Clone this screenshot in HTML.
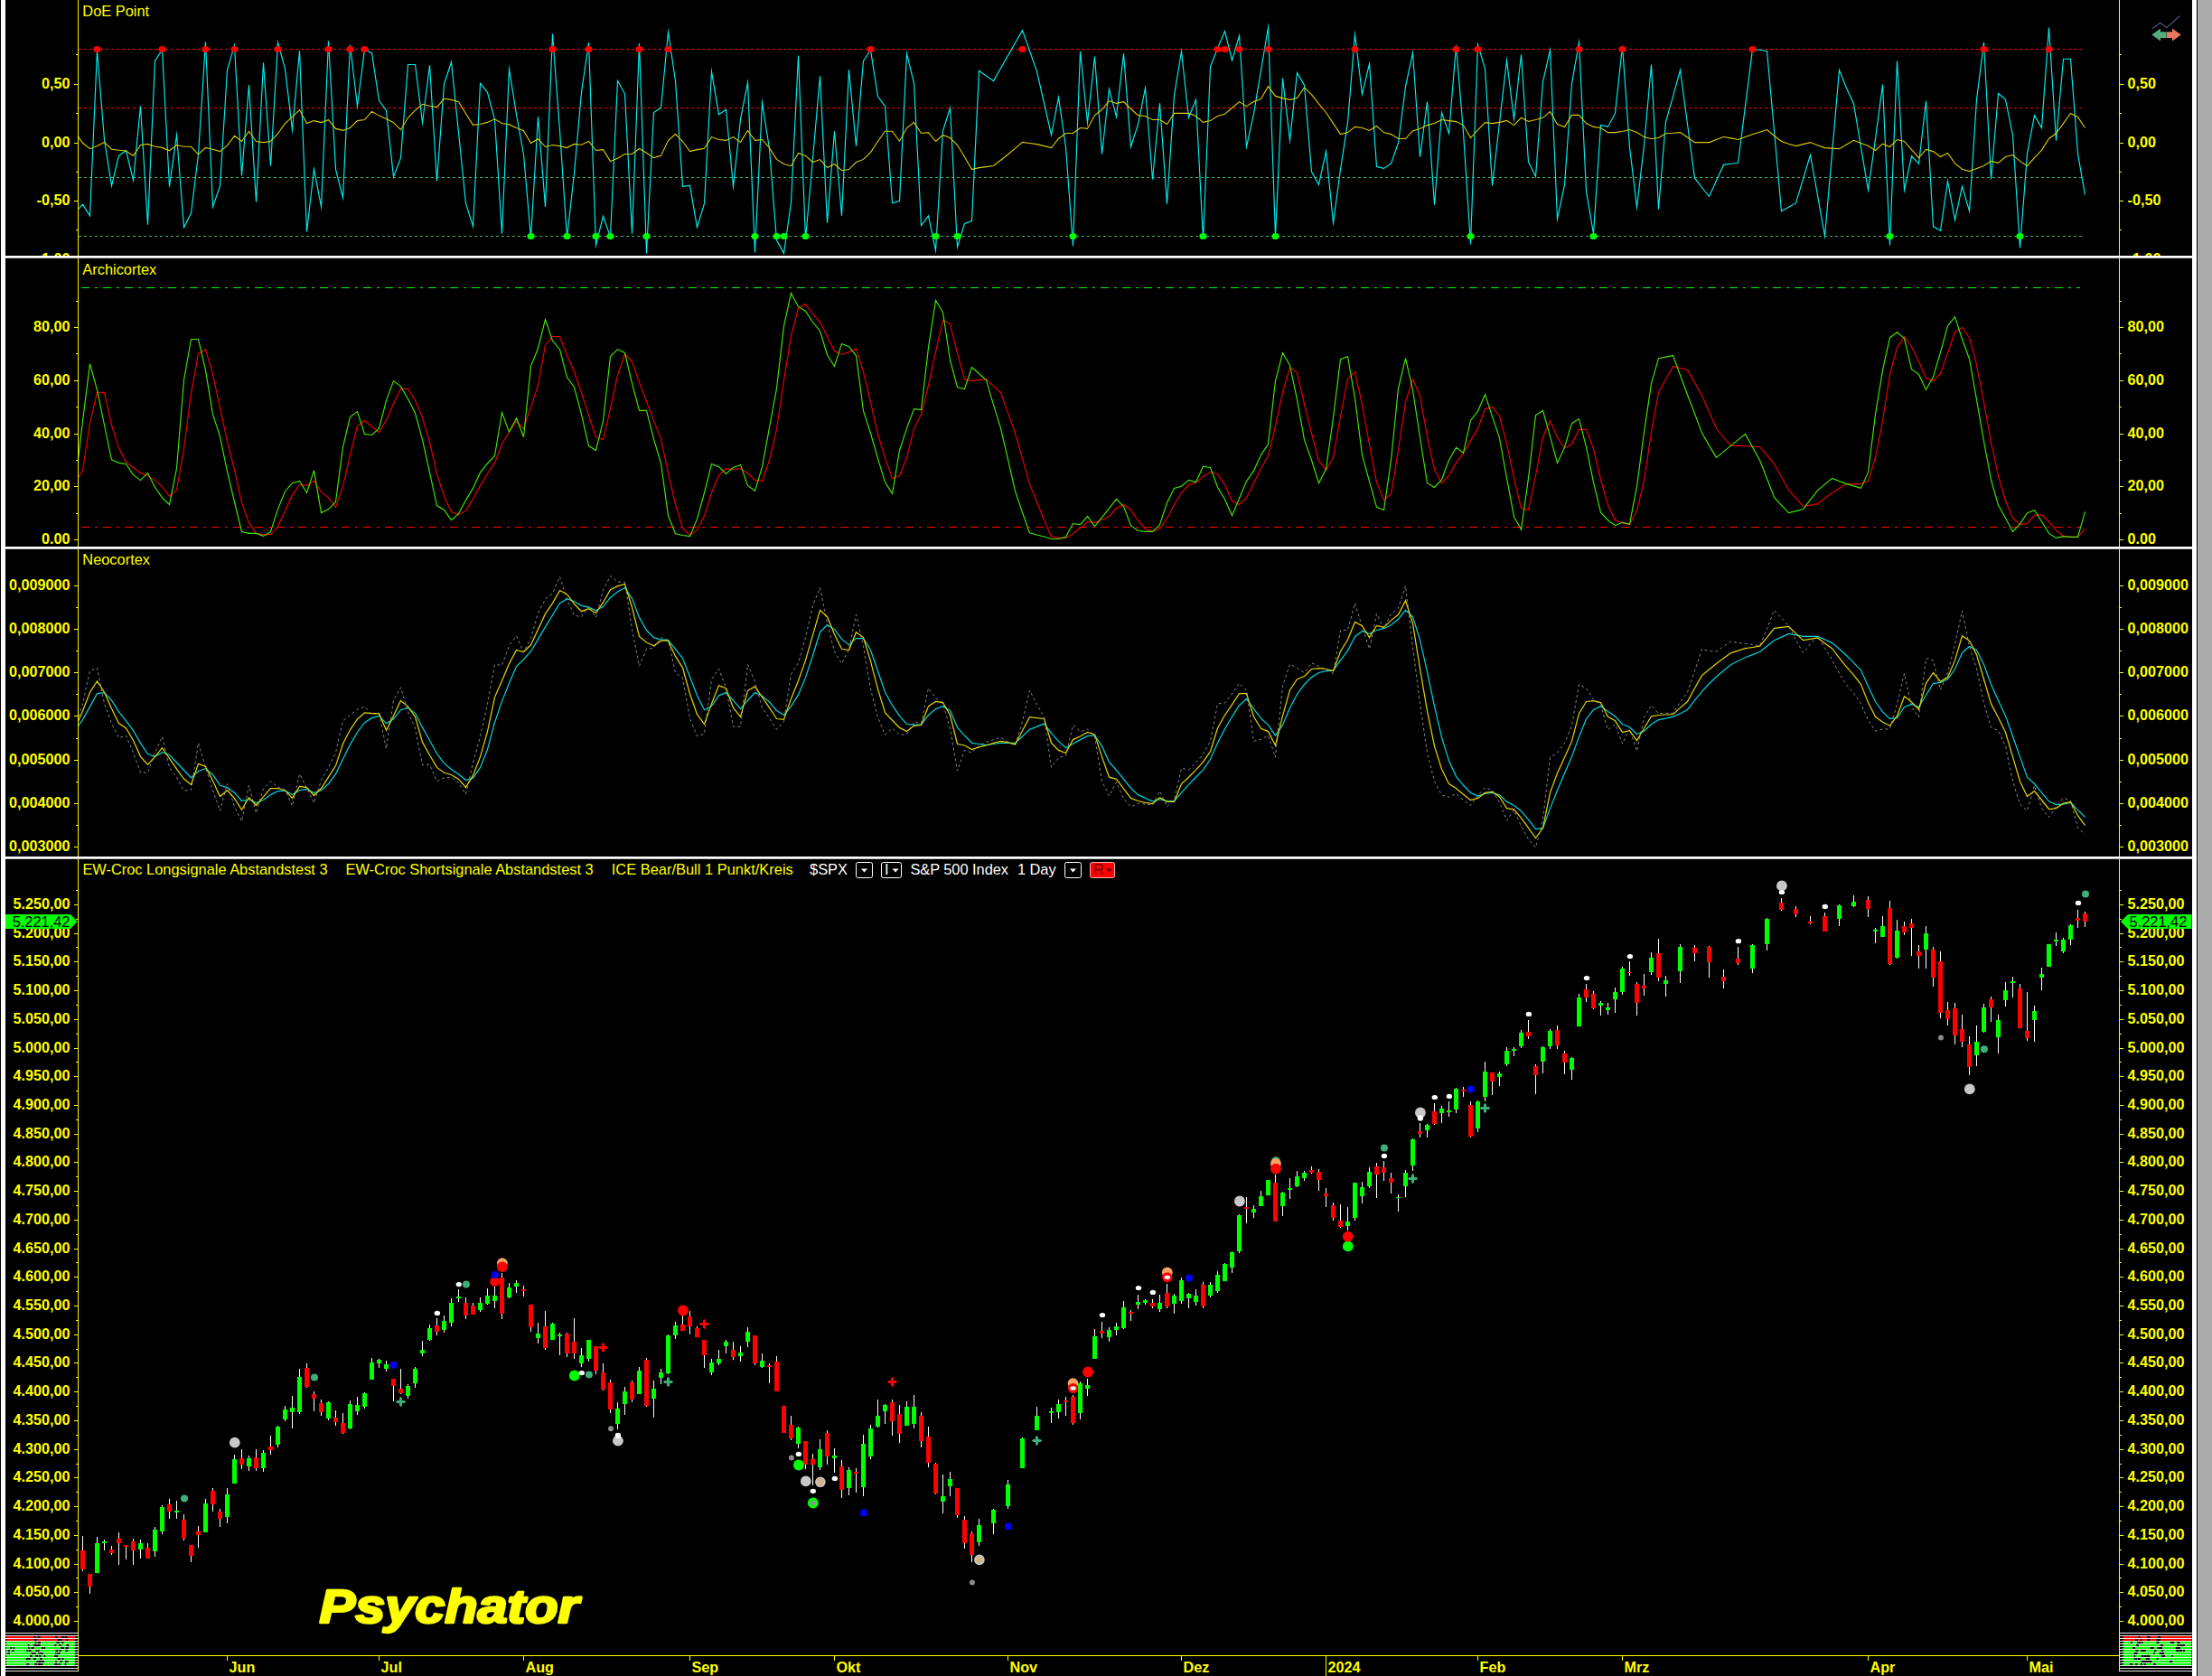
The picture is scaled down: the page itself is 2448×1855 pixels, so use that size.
<!DOCTYPE html><html><head><meta charset="utf-8"><title>Psychator Chart</title>
<style>html,body{margin:0;padding:0;background:#000;}body{width:2448px;height:1855px;overflow:hidden;position:relative;font-family:"Liberation Sans", Arial, sans-serif;}svg{position:absolute;left:0;top:0;display:block}text{font-family:"Liberation Sans", Arial, sans-serif;font-size:16.4px;}.b{font-weight:bold;fill:#ff0;font-size:16.2px}.t{fill:#ff0}.w{fill:#fff}</style></head><body>
<svg width="2448" height="1855" viewBox="0 0 2448 1855">
<defs>
<clipPath id="c1"><rect x="87" y="0" width="2258" height="283"/></clipPath>
<clipPath id="c2"><rect x="87" y="286" width="2258" height="319"/></clipPath>
<clipPath id="c3"><rect x="87" y="607" width="2258" height="341"/></clipPath>
<clipPath id="l1"><rect x="0" y="0" width="2448" height="283"/></clipPath>
<clipPath id="l2"><rect x="0" y="286" width="2448" height="319"/></clipPath>
<clipPath id="l3"><rect x="0" y="607" width="2448" height="341"/></clipPath>
<clipPath id="l4"><rect x="0" y="950" width="2448" height="857"/></clipPath>
</defs>
<rect x="0" y="0" width="2448" height="1855" fill="#000"/>
<rect x="1" y="0" width="5" height="1855" fill="#fff"/>
<rect x="2426" y="0" width="5" height="1855" fill="#fff"/>
<rect x="2432" y="0" width="16" height="1855" fill="#ababab"/>
<rect x="6" y="283" width="2420" height="3" fill="#fff"/>
<rect x="6" y="285" width="2420" height="1" fill="#bbb"/>
<rect x="6" y="605" width="2420" height="3" fill="#fff"/>
<rect x="6" y="607" width="2420" height="1" fill="#bbb"/>
<rect x="6" y="948" width="2420" height="3" fill="#fff"/>
<rect x="6" y="950" width="2420" height="1" fill="#bbb"/>
<line x1="86.5" y1="0.0" x2="86.5" y2="283.0" stroke="#ff0" stroke-width="1" shape-rendering="crispEdges"/>
<line x1="86.5" y1="286.0" x2="86.5" y2="605.0" stroke="#ff0" stroke-width="1" shape-rendering="crispEdges"/>
<line x1="86.5" y1="608.0" x2="86.5" y2="948.0" stroke="#ff0" stroke-width="1" shape-rendering="crispEdges"/>
<line x1="86.5" y1="951.0" x2="86.5" y2="1850.0" stroke="#ff0" stroke-width="1" shape-rendering="crispEdges"/>
<line x1="2345.5" y1="0.0" x2="2345.5" y2="283.0" stroke="#ff0" stroke-width="1" shape-rendering="crispEdges"/>
<line x1="2345.5" y1="286.0" x2="2345.5" y2="605.0" stroke="#ff0" stroke-width="1" shape-rendering="crispEdges"/>
<line x1="2345.5" y1="608.0" x2="2345.5" y2="948.0" stroke="#ff0" stroke-width="1" shape-rendering="crispEdges"/>
<line x1="2345.5" y1="951.0" x2="2345.5" y2="1850.0" stroke="#ff0" stroke-width="1" shape-rendering="crispEdges"/>
<g clip-path="url(#l1)">
<line x1="82.0" y1="93.5" x2="86.0" y2="93.5" stroke="#ff0" stroke-width="1" shape-rendering="crispEdges"/>
<line x1="2346.0" y1="93.5" x2="2350.0" y2="93.5" stroke="#ff0" stroke-width="1" shape-rendering="crispEdges"/>
<text class="b" x="77.5" y="98.1" text-anchor="end">0,50</text>
<text class="b" x="2354.5" y="98.1">0,50</text>
<line x1="82.0" y1="158.5" x2="86.0" y2="158.5" stroke="#ff0" stroke-width="1" shape-rendering="crispEdges"/>
<line x1="2346.0" y1="158.5" x2="2350.0" y2="158.5" stroke="#ff0" stroke-width="1" shape-rendering="crispEdges"/>
<text class="b" x="77.5" y="163.1" text-anchor="end">0,00</text>
<text class="b" x="2354.5" y="163.1">0,00</text>
<line x1="82.0" y1="222.5" x2="86.0" y2="222.5" stroke="#ff0" stroke-width="1" shape-rendering="crispEdges"/>
<line x1="2346.0" y1="222.5" x2="2350.0" y2="222.5" stroke="#ff0" stroke-width="1" shape-rendering="crispEdges"/>
<text class="b" x="77.5" y="227.1" text-anchor="end">-0,50</text>
<text class="b" x="2354.5" y="227.1">-0,50</text>
<line x1="82.0" y1="287.5" x2="86.0" y2="287.5" stroke="#ff0" stroke-width="1" shape-rendering="crispEdges"/>
<line x1="2346.0" y1="287.5" x2="2350.0" y2="287.5" stroke="#ff0" stroke-width="1" shape-rendering="crispEdges"/>
<text class="b" x="77.5" y="292.1" text-anchor="end">-1,00</text>
<text class="b" x="2354.5" y="292.1">-1,00</text>
<line x1="84.0" y1="60.5" x2="86.0" y2="60.5" stroke="#ff0" stroke-width="1" shape-rendering="crispEdges"/>
<line x1="2346.0" y1="60.5" x2="2348.0" y2="60.5" stroke="#ff0" stroke-width="1" shape-rendering="crispEdges"/>
<line x1="84.0" y1="125.5" x2="86.0" y2="125.5" stroke="#ff0" stroke-width="1" shape-rendering="crispEdges"/>
<line x1="2346.0" y1="125.5" x2="2348.0" y2="125.5" stroke="#ff0" stroke-width="1" shape-rendering="crispEdges"/>
<line x1="84.0" y1="190.5" x2="86.0" y2="190.5" stroke="#ff0" stroke-width="1" shape-rendering="crispEdges"/>
<line x1="2346.0" y1="190.5" x2="2348.0" y2="190.5" stroke="#ff0" stroke-width="1" shape-rendering="crispEdges"/>
<line x1="84.0" y1="254.5" x2="86.0" y2="254.5" stroke="#ff0" stroke-width="1" shape-rendering="crispEdges"/>
<line x1="2346.0" y1="254.5" x2="2348.0" y2="254.5" stroke="#ff0" stroke-width="1" shape-rendering="crispEdges"/>
</g>
<text class="t" x="91.3" y="18">DoE Point</text>
<line x1="87" y1="54.5" x2="2304" y2="54.5" stroke="#f00" stroke-width="1" stroke-dasharray="3 3" shape-rendering="crispEdges"/>
<line x1="87" y1="119.5" x2="2304" y2="119.5" stroke="#f00" stroke-width="1" stroke-dasharray="3 3" shape-rendering="crispEdges"/>
<line x1="87" y1="196.5" x2="2304" y2="196.5" stroke="#3cb371" stroke-width="1" stroke-dasharray="3 3" shape-rendering="crispEdges"/>
<line x1="87" y1="261.5" x2="2304" y2="261.5" stroke="#3cb371" stroke-width="1" stroke-dasharray="3 3" shape-rendering="crispEdges"/>
<g clip-path="url(#c1)" fill="none" stroke-linejoin="miter" stroke-miterlimit="10">
<polyline points="83.5,235.2 91.5,226.1 99.5,238.8 107.5,56.2 115.5,154.7 123.5,205.7 131.5,172.4 139.5,166.5 147.5,199.6 155.5,117.6 163.5,248.8 171.5,67.4 179.5,55.3 187.5,206.6 195.5,149.3 203.5,251.6 211.5,236.1 219.5,171.0 227.5,46.2 235.5,228.9 243.5,205.9 251.5,77.5 259.5,50.4 267.5,194.5 275.5,94.1 283.5,223.8 291.5,69.2 299.5,183.7 307.5,47.1 315.5,76.1 323.5,143.9 331.5,56.2 339.5,256.5 347.5,187.3 355.5,228.9 363.5,45.3 371.5,187.3 379.5,218.9 387.5,49.8 395.5,117.6 403.5,54.4 411.5,58.9 419.5,111.3 427.5,122.2 435.5,195.8 443.5,174.6 451.5,71.5 459.5,71.5 467.5,135.7 475.5,72.4 483.5,200.5 491.5,93.2 499.5,68.5 507.5,146.6 515.5,225.2 523.5,250.6 531.5,92.3 539.5,102.3 547.5,132.1 555.5,258.7 563.5,76.4 571.5,126.7 579.5,171.0 587.5,263.2 595.5,129.4 603.5,228.9 611.5,37.2 619.5,144.8 627.5,263.2 635.5,191.8 643.5,102.3 651.5,47.1 659.5,271.4 667.5,239.3 675.5,262.3 683.5,89.3 691.5,104.1 699.5,258.7 707.5,48.0 715.5,280.4 723.5,124.5 731.5,119.1 739.5,35.4 747.5,89.6 755.5,206.3 763.5,205.4 771.5,251.5 779.5,225.2 787.5,79.3 795.5,126.7 803.5,121.3 811.5,206.6 819.5,132.1 827.5,91.4 835.5,279.5 843.5,113.5 851.5,164.7 859.5,265.9 867.5,280.4 875.5,224.3 883.5,61.6 891.5,265.0 899.5,175.5 907.5,84.2 915.5,246.6 923.5,145.3 931.5,238.8 939.5,77.3 947.5,161.6 955.5,67.4 963.5,55.3 971.5,106.8 979.5,117.6 987.5,224.7 995.5,222.5 1003.5,59.2 1011.5,92.3 1019.5,249.7 1027.5,238.8 1035.5,277.1 1043.5,144.8 1051.5,119.5 1059.5,273.5 1067.5,247.5 1075.5,244.6 1083.5,78.4 1091.5,84.0 1099.5,89.6 1107.5,75.5 1115.5,61.6 1123.5,47.5 1131.5,33.6 1139.5,56.2 1147.5,78.8 1155.5,114.0 1163.5,149.5 1171.5,107.7 1179.5,162.9 1187.5,272.3 1195.5,56.7 1203.5,135.7 1211.5,62.5 1219.5,170.5 1227.5,98.7 1235.5,129.4 1243.5,59.4 1251.5,162.5 1259.5,137.5 1267.5,97.4 1275.5,198.7 1283.5,114.4 1291.5,225.6 1299.5,105.9 1307.5,56.7 1315.5,130.3 1323.5,110.4 1331.5,265.0 1339.5,73.7 1347.5,53.5 1355.5,34.5 1363.5,66.7 1371.5,39.5 1379.5,162.5 1387.5,125.8 1395.5,77.9 1403.5,30.5 1411.5,262.3 1419.5,86.5 1427.5,155.3 1435.5,80.6 1443.5,94.1 1451.5,190.0 1459.5,204.4 1467.5,167.4 1475.5,246.6 1483.5,187.3 1491.5,135.7 1499.5,38.1 1507.5,104.4 1515.5,70.6 1523.5,184.6 1531.5,186.4 1539.5,180.9 1547.5,158.3 1555.5,95.9 1563.5,58.3 1571.5,173.7 1579.5,112.6 1587.5,226.7 1595.5,124.5 1603.5,147.7 1611.5,50.4 1619.5,146.6 1627.5,270.5 1635.5,49.3 1643.5,76.1 1651.5,205.4 1659.5,135.7 1667.5,66.7 1675.5,131.8 1683.5,60.5 1691.5,179.1 1699.5,195.4 1707.5,90.5 1715.5,55.3 1723.5,242.4 1731.5,204.4 1739.5,92.3 1747.5,46.8 1755.5,211.7 1763.5,258.7 1771.5,138.4 1779.5,140.4 1787.5,125.4 1795.5,50.7 1803.5,162.9 1811.5,229.4 1819.5,161.0 1827.5,71.5 1835.5,231.6 1843.5,134.8 1851.5,106.8 1859.5,77.5 1867.5,137.5 1875.5,197.2 1883.5,207.5 1891.5,217.5 1899.5,199.9 1907.5,182.4 1915.5,181.3 1923.5,180.2 1931.5,117.6 1939.5,54.4 1947.5,55.3 1955.5,56.7 1963.5,144.8 1971.5,233.7 1979.5,229.2 1987.5,224.7 1995.5,198.1 2003.5,171.5 2011.5,216.2 2019.5,261.4 2027.5,170.1 2035.5,77.5 2043.5,97.4 2051.5,114.9 2059.5,162.9 2067.5,210.4 2075.5,153.8 2083.5,93.6 2091.5,271.4 2099.5,67.6 2107.5,210.4 2115.5,172.8 2123.5,181.3 2131.5,111.7 2139.5,250.6 2147.5,255.4 2155.5,200.5 2163.5,243.5 2171.5,206.3 2179.5,233.4 2187.5,110.4 2195.5,46.8 2203.5,198.5 2211.5,103.5 2219.5,110.4 2227.5,149.5 2235.5,274.4 2243.5,170.1 2251.5,127.6 2259.5,141.5 2267.5,30.5 2275.5,155.6 2283.5,65.2 2291.5,65.2 2299.5,170.1 2307.5,215.7" stroke="#00f0f0" stroke-width="1.15"/>
<polyline points="83.5,146.6 91.5,158.3 99.5,164.7 107.5,161.4 115.5,157.4 123.5,165.2 131.5,166.3 139.5,167.0 147.5,172.4 155.5,160.5 163.5,159.4 171.5,162.3 179.5,163.4 187.5,166.8 195.5,160.5 203.5,162.3 211.5,162.3 219.5,171.0 227.5,163.4 235.5,165.2 243.5,167.6 251.5,161.2 259.5,150.4 267.5,156.5 275.5,145.5 283.5,156.5 291.5,157.6 299.5,156.5 307.5,148.0 315.5,136.6 323.5,129.4 331.5,121.6 339.5,136.6 347.5,133.6 355.5,135.6 363.5,132.7 371.5,142.4 379.5,144.4 387.5,141.5 395.5,133.6 403.5,132.5 411.5,123.4 419.5,128.1 427.5,131.4 435.5,135.7 443.5,143.7 451.5,130.3 459.5,122.2 467.5,115.3 475.5,117.3 483.5,118.6 491.5,109.3 499.5,110.4 507.5,112.6 515.5,125.8 523.5,138.4 531.5,137.5 539.5,135.4 547.5,131.8 555.5,136.5 563.5,137.9 571.5,141.5 579.5,144.8 587.5,158.5 595.5,153.8 603.5,162.5 611.5,160.5 619.5,161.6 627.5,163.6 635.5,159.4 643.5,160.3 651.5,156.5 659.5,166.5 667.5,165.6 675.5,178.6 683.5,175.2 691.5,170.5 699.5,170.5 707.5,164.5 715.5,169.2 723.5,174.6 731.5,172.4 739.5,155.6 747.5,148.6 755.5,156.5 763.5,167.6 771.5,165.6 779.5,164.3 787.5,151.6 795.5,154.5 803.5,155.4 811.5,151.6 819.5,157.4 827.5,144.4 835.5,155.4 843.5,154.5 851.5,163.6 859.5,176.4 867.5,181.5 875.5,183.7 883.5,169.5 891.5,172.4 899.5,179.5 907.5,176.6 915.5,185.5 923.5,181.5 931.5,188.7 939.5,187.6 947.5,179.5 955.5,176.4 963.5,168.6 971.5,156.5 979.5,145.3 987.5,145.3 995.5,156.3 1003.5,141.5 1011.5,135.6 1019.5,147.5 1027.5,146.6 1035.5,156.5 1043.5,149.5 1051.5,152.5 1059.5,160.5 1067.5,173.7 1075.5,187.6 1083.5,185.6 1091.5,184.6 1099.5,183.5 1107.5,177.3 1115.5,171.0 1123.5,164.1 1131.5,157.4 1139.5,158.5 1147.5,159.6 1155.5,161.6 1163.5,163.6 1171.5,153.5 1179.5,147.5 1187.5,147.5 1195.5,141.5 1203.5,142.4 1211.5,127.6 1219.5,121.3 1227.5,111.7 1235.5,114.4 1243.5,112.6 1251.5,120.5 1259.5,127.6 1267.5,128.5 1275.5,132.5 1283.5,132.5 1291.5,137.5 1299.5,125.4 1307.5,125.4 1315.5,125.4 1323.5,128.5 1331.5,135.4 1339.5,133.6 1347.5,128.5 1355.5,126.3 1363.5,119.5 1371.5,112.6 1379.5,117.6 1387.5,112.6 1395.5,109.5 1403.5,95.6 1411.5,106.4 1419.5,108.6 1427.5,110.4 1435.5,108.6 1443.5,96.9 1451.5,104.6 1459.5,114.9 1467.5,124.5 1475.5,136.6 1483.5,148.6 1491.5,146.6 1499.5,140.4 1507.5,141.5 1515.5,144.4 1523.5,139.5 1531.5,146.6 1539.5,148.6 1547.5,153.5 1555.5,153.5 1563.5,144.8 1571.5,142.6 1579.5,138.6 1587.5,136.5 1595.5,132.5 1603.5,133.6 1611.5,134.6 1619.5,138.6 1627.5,152.5 1635.5,143.9 1643.5,135.7 1651.5,136.6 1659.5,135.4 1667.5,133.4 1675.5,138.6 1683.5,130.3 1691.5,134.5 1699.5,132.5 1707.5,130.3 1715.5,123.6 1723.5,137.5 1731.5,140.6 1739.5,127.4 1747.5,127.4 1755.5,136.6 1763.5,140.4 1771.5,141.5 1779.5,146.6 1787.5,146.6 1795.5,145.5 1803.5,143.5 1811.5,146.6 1819.5,151.6 1827.5,153.8 1835.5,152.5 1843.5,147.7 1851.5,147.3 1859.5,146.6 1867.5,152.0 1875.5,157.6 1883.5,157.6 1891.5,157.6 1899.5,154.5 1907.5,151.5 1915.5,152.9 1923.5,154.5 1931.5,151.6 1939.5,148.8 1947.5,146.2 1955.5,143.5 1963.5,150.2 1971.5,156.5 1979.5,159.2 1987.5,161.6 1995.5,159.6 2003.5,157.6 2011.5,160.7 2019.5,163.6 2027.5,164.1 2035.5,164.7 2043.5,160.1 2051.5,155.3 2059.5,158.5 2067.5,161.6 2075.5,166.5 2083.5,159.2 2091.5,162.5 2099.5,154.5 2107.5,156.5 2115.5,165.6 2123.5,174.6 2131.5,165.4 2139.5,167.6 2147.5,173.5 2155.5,169.5 2163.5,180.9 2171.5,187.3 2179.5,189.6 2187.5,186.5 2195.5,183.5 2203.5,178.4 2211.5,180.4 2219.5,173.5 2227.5,171.5 2235.5,178.4 2243.5,183.7 2251.5,174.6 2259.5,166.1 2267.5,153.5 2275.5,147.5 2283.5,136.6 2291.5,125.4 2299.5,129.4 2307.5,141.5" stroke="#dccc00" stroke-width="1.1"/>
<ellipse cx="107.5" cy="54.5" rx="4.1" ry="3.6" fill="#f00" stroke="none"/>
<ellipse cx="179.5" cy="54.5" rx="4.1" ry="3.6" fill="#f00" stroke="none"/>
<ellipse cx="227.5" cy="54.5" rx="4.1" ry="3.6" fill="#f00" stroke="none"/>
<ellipse cx="259.5" cy="54.5" rx="4.1" ry="3.6" fill="#f00" stroke="none"/>
<ellipse cx="307.5" cy="54.5" rx="4.1" ry="3.6" fill="#f00" stroke="none"/>
<ellipse cx="363.5" cy="54.5" rx="4.1" ry="3.6" fill="#f00" stroke="none"/>
<ellipse cx="387.5" cy="54.5" rx="4.1" ry="3.6" fill="#f00" stroke="none"/>
<ellipse cx="403.5" cy="54.5" rx="4.1" ry="3.6" fill="#f00" stroke="none"/>
<ellipse cx="611.5" cy="54.5" rx="4.1" ry="3.6" fill="#f00" stroke="none"/>
<ellipse cx="651.5" cy="54.5" rx="4.1" ry="3.6" fill="#f00" stroke="none"/>
<ellipse cx="707.5" cy="54.5" rx="4.1" ry="3.6" fill="#f00" stroke="none"/>
<ellipse cx="739.5" cy="54.5" rx="4.1" ry="3.6" fill="#f00" stroke="none"/>
<ellipse cx="963.5" cy="54.5" rx="4.1" ry="3.6" fill="#f00" stroke="none"/>
<ellipse cx="1131.5" cy="54.5" rx="4.1" ry="3.6" fill="#f00" stroke="none"/>
<ellipse cx="1347.5" cy="54.5" rx="4.1" ry="3.6" fill="#f00" stroke="none"/>
<ellipse cx="1355.5" cy="54.5" rx="4.1" ry="3.6" fill="#f00" stroke="none"/>
<ellipse cx="1371.5" cy="54.5" rx="4.1" ry="3.6" fill="#f00" stroke="none"/>
<ellipse cx="1403.5" cy="54.5" rx="4.1" ry="3.6" fill="#f00" stroke="none"/>
<ellipse cx="1499.5" cy="54.5" rx="4.1" ry="3.6" fill="#f00" stroke="none"/>
<ellipse cx="1611.5" cy="54.5" rx="4.1" ry="3.6" fill="#f00" stroke="none"/>
<ellipse cx="1635.5" cy="54.5" rx="4.1" ry="3.6" fill="#f00" stroke="none"/>
<ellipse cx="1747.5" cy="54.5" rx="4.1" ry="3.6" fill="#f00" stroke="none"/>
<ellipse cx="1795.5" cy="54.5" rx="4.1" ry="3.6" fill="#f00" stroke="none"/>
<ellipse cx="1939.5" cy="54.5" rx="4.1" ry="3.6" fill="#f00" stroke="none"/>
<ellipse cx="2195.5" cy="54.5" rx="4.1" ry="3.6" fill="#f00" stroke="none"/>
<ellipse cx="2267.5" cy="54.5" rx="4.1" ry="3.6" fill="#f00" stroke="none"/>
<ellipse cx="587.5" cy="261.5" rx="4.1" ry="3.6" fill="#0f0" stroke="none"/>
<ellipse cx="627.5" cy="261.5" rx="4.1" ry="3.6" fill="#0f0" stroke="none"/>
<ellipse cx="659.5" cy="261.5" rx="4.1" ry="3.6" fill="#0f0" stroke="none"/>
<ellipse cx="675.5" cy="261.5" rx="4.1" ry="3.6" fill="#0f0" stroke="none"/>
<ellipse cx="715.5" cy="261.5" rx="4.1" ry="3.6" fill="#0f0" stroke="none"/>
<ellipse cx="835.5" cy="261.5" rx="4.1" ry="3.6" fill="#0f0" stroke="none"/>
<ellipse cx="859.5" cy="261.5" rx="4.1" ry="3.6" fill="#0f0" stroke="none"/>
<ellipse cx="867.5" cy="261.5" rx="4.1" ry="3.6" fill="#0f0" stroke="none"/>
<ellipse cx="891.5" cy="261.5" rx="4.1" ry="3.6" fill="#0f0" stroke="none"/>
<ellipse cx="1035.5" cy="261.5" rx="4.1" ry="3.6" fill="#0f0" stroke="none"/>
<ellipse cx="1059.5" cy="261.5" rx="4.1" ry="3.6" fill="#0f0" stroke="none"/>
<ellipse cx="1187.5" cy="261.5" rx="4.1" ry="3.6" fill="#0f0" stroke="none"/>
<ellipse cx="1331.5" cy="261.5" rx="4.1" ry="3.6" fill="#0f0" stroke="none"/>
<ellipse cx="1411.5" cy="261.5" rx="4.1" ry="3.6" fill="#0f0" stroke="none"/>
<ellipse cx="1627.5" cy="261.5" rx="4.1" ry="3.6" fill="#0f0" stroke="none"/>
<ellipse cx="1763.5" cy="261.5" rx="4.1" ry="3.6" fill="#0f0" stroke="none"/>
<ellipse cx="2091.5" cy="261.5" rx="4.1" ry="3.6" fill="#0f0" stroke="none"/>
<ellipse cx="2235.5" cy="261.5" rx="4.1" ry="3.6" fill="#0f0" stroke="none"/>
</g>
<polyline points="2382.2,31.6 2390.7,25.3 2397.9,30.4 2412.4,17.7" fill="none" stroke="#46557a" stroke-width="1.2"/>
<polygon points="2381.3,38.5 2391,31.6 2391,35.3 2397.5,35.3 2397.5,42 2391,42 2391,45.4" fill="#4fae7c"/>
<polygon points="2413.8,38.5 2404,31.6 2404,35.3 2397.8,35.3 2397.8,42 2404,42 2404,45.4" fill="#e8795c"/>
<g clip-path="url(#l2)">
<line x1="82.0" y1="362.5" x2="86.0" y2="362.5" stroke="#ff0" stroke-width="1" shape-rendering="crispEdges"/>
<line x1="2346.0" y1="362.5" x2="2350.0" y2="362.5" stroke="#ff0" stroke-width="1" shape-rendering="crispEdges"/>
<text class="b" x="77.5" y="367.1" text-anchor="end">80,00</text>
<text class="b" x="2354.5" y="367.1">80,00</text>
<line x1="82.0" y1="421.5" x2="86.0" y2="421.5" stroke="#ff0" stroke-width="1" shape-rendering="crispEdges"/>
<line x1="2346.0" y1="421.5" x2="2350.0" y2="421.5" stroke="#ff0" stroke-width="1" shape-rendering="crispEdges"/>
<text class="b" x="77.5" y="426.1" text-anchor="end">60,00</text>
<text class="b" x="2354.5" y="426.1">60,00</text>
<line x1="82.0" y1="480.5" x2="86.0" y2="480.5" stroke="#ff0" stroke-width="1" shape-rendering="crispEdges"/>
<line x1="2346.0" y1="480.5" x2="2350.0" y2="480.5" stroke="#ff0" stroke-width="1" shape-rendering="crispEdges"/>
<text class="b" x="77.5" y="485.1" text-anchor="end">40,00</text>
<text class="b" x="2354.5" y="485.1">40,00</text>
<line x1="82.0" y1="538.5" x2="86.0" y2="538.5" stroke="#ff0" stroke-width="1" shape-rendering="crispEdges"/>
<line x1="2346.0" y1="538.5" x2="2350.0" y2="538.5" stroke="#ff0" stroke-width="1" shape-rendering="crispEdges"/>
<text class="b" x="77.5" y="543.1" text-anchor="end">20,00</text>
<text class="b" x="2354.5" y="543.1">20,00</text>
<line x1="82.0" y1="597.5" x2="86.0" y2="597.5" stroke="#ff0" stroke-width="1" shape-rendering="crispEdges"/>
<line x1="2346.0" y1="597.5" x2="2350.0" y2="597.5" stroke="#ff0" stroke-width="1" shape-rendering="crispEdges"/>
<text class="b" x="77.5" y="602.1" text-anchor="end">0.00</text>
<text class="b" x="2354.5" y="602.1">0.00</text>
<line x1="84.0" y1="333.5" x2="86.0" y2="333.5" stroke="#ff0" stroke-width="1" shape-rendering="crispEdges"/>
<line x1="2346.0" y1="333.5" x2="2348.0" y2="333.5" stroke="#ff0" stroke-width="1" shape-rendering="crispEdges"/>
<line x1="84.0" y1="391.5" x2="86.0" y2="391.5" stroke="#ff0" stroke-width="1" shape-rendering="crispEdges"/>
<line x1="2346.0" y1="391.5" x2="2348.0" y2="391.5" stroke="#ff0" stroke-width="1" shape-rendering="crispEdges"/>
<line x1="84.0" y1="450.5" x2="86.0" y2="450.5" stroke="#ff0" stroke-width="1" shape-rendering="crispEdges"/>
<line x1="2346.0" y1="450.5" x2="2348.0" y2="450.5" stroke="#ff0" stroke-width="1" shape-rendering="crispEdges"/>
<line x1="84.0" y1="509.5" x2="86.0" y2="509.5" stroke="#ff0" stroke-width="1" shape-rendering="crispEdges"/>
<line x1="2346.0" y1="509.5" x2="2348.0" y2="509.5" stroke="#ff0" stroke-width="1" shape-rendering="crispEdges"/>
<line x1="84.0" y1="568.5" x2="86.0" y2="568.5" stroke="#ff0" stroke-width="1" shape-rendering="crispEdges"/>
<line x1="2346.0" y1="568.5" x2="2348.0" y2="568.5" stroke="#ff0" stroke-width="1" shape-rendering="crispEdges"/>
</g>
<text class="t" x="91.3" y="304">Archicortex</text>
<line x1="90" y1="318.5" x2="2302" y2="318.5" stroke="#0f0" stroke-width="1" stroke-dasharray="9 6 3 6" shape-rendering="crispEdges"/>
<line x1="90" y1="583.5" x2="2302" y2="583.5" stroke="#f00" stroke-width="1" stroke-dasharray="9 6 3 6" shape-rendering="crispEdges"/>
<g clip-path="url(#c2)" fill="none">
<polyline points="83.5,533.8 91.5,520.6 99.5,468.7 107.5,434.3 115.5,434.3 123.5,470.5 131.5,495.8 139.5,511.5 147.5,517.5 155.5,523.4 163.5,526.5 171.5,531.6 179.5,538.3 187.5,549.5 195.5,542.3 203.5,496.7 211.5,435.6 219.5,391.4 227.5,386.7 235.5,414.4 243.5,451.1 251.5,488.5 259.5,520.2 267.5,556.4 275.5,578.4 283.5,590.4 291.5,591.6 299.5,591.6 307.5,582.6 315.5,565.4 323.5,547.9 331.5,536.5 339.5,537.4 347.5,532.5 355.5,544.6 363.5,550.6 371.5,561.4 379.5,538.3 387.5,503.9 395.5,471.4 403.5,465.6 411.5,472.3 419.5,478.6 427.5,465.0 435.5,447.0 443.5,430.3 451.5,430.3 459.5,443.3 467.5,462.3 475.5,489.1 483.5,524.3 491.5,549.5 499.5,566.5 507.5,569.6 515.5,565.4 523.5,552.4 531.5,537.4 539.5,524.3 547.5,512.4 555.5,491.3 563.5,478.2 571.5,466.5 579.5,474.4 587.5,450.6 595.5,426.5 603.5,381.9 611.5,372.5 619.5,372.5 627.5,393.6 635.5,411.5 643.5,434.5 651.5,459.6 659.5,483.7 667.5,486.4 675.5,452.4 683.5,415.3 691.5,391.4 699.5,400.5 707.5,423.4 715.5,444.2 723.5,465.9 731.5,485.8 739.5,523.8 747.5,558.2 755.5,584.4 763.5,592.5 771.5,586.2 779.5,570.8 787.5,545.5 795.5,526.0 803.5,518.6 811.5,519.5 819.5,518.6 827.5,523.8 835.5,531.4 843.5,532.5 851.5,509.3 859.5,475.0 867.5,420.7 875.5,371.9 883.5,341.2 891.5,336.6 899.5,347.5 907.5,356.5 915.5,372.5 923.5,388.5 931.5,392.5 939.5,389.6 947.5,385.7 955.5,411.7 963.5,445.1 971.5,480.4 979.5,506.6 987.5,529.6 995.5,526.5 1003.5,506.6 1011.5,474.4 1019.5,458.7 1027.5,426.5 1035.5,389.6 1043.5,354.4 1051.5,358.3 1059.5,390.9 1067.5,419.6 1075.5,421.6 1083.5,420.4 1091.5,419.5 1099.5,427.4 1107.5,434.5 1115.5,456.9 1123.5,479.5 1131.5,507.5 1139.5,535.6 1147.5,555.5 1155.5,575.7 1163.5,594.0 1171.5,595.4 1179.5,595.4 1187.5,590.7 1195.5,584.4 1203.5,577.5 1211.5,578.4 1219.5,575.3 1227.5,571.7 1235.5,562.5 1243.5,558.5 1251.5,564.5 1259.5,576.2 1267.5,585.3 1275.5,588.4 1283.5,585.3 1291.5,573.5 1299.5,558.5 1307.5,545.5 1315.5,536.5 1323.5,534.3 1331.5,527.4 1339.5,522.5 1347.5,524.7 1355.5,536.5 1363.5,554.5 1371.5,558.5 1379.5,550.9 1387.5,534.7 1395.5,518.4 1403.5,504.8 1411.5,471.4 1419.5,434.3 1427.5,406.6 1435.5,412.6 1443.5,447.0 1451.5,479.5 1459.5,510.2 1467.5,520.2 1475.5,506.6 1483.5,460.5 1491.5,419.5 1499.5,411.7 1507.5,447.9 1515.5,492.2 1523.5,533.8 1531.5,553.6 1539.5,546.4 1547.5,498.5 1555.5,445.1 1563.5,419.8 1571.5,437.9 1579.5,483.1 1587.5,519.3 1595.5,534.7 1603.5,526.5 1611.5,512.4 1619.5,501.6 1627.5,487.6 1635.5,474.4 1643.5,452.6 1651.5,450.6 1659.5,460.5 1667.5,491.3 1675.5,529.2 1683.5,562.5 1691.5,564.5 1699.5,526.5 1707.5,483.7 1715.5,465.6 1723.5,484.0 1731.5,496.3 1739.5,491.3 1747.5,475.3 1755.5,475.3 1763.5,496.7 1771.5,531.0 1779.5,559.1 1787.5,575.7 1795.5,579.0 1803.5,580.6 1811.5,565.4 1819.5,531.9 1827.5,478.6 1835.5,434.5 1843.5,419.8 1851.5,405.4 1859.5,407.5 1867.5,409.5 1875.5,423.4 1883.5,437.9 1891.5,456.0 1899.5,474.3 1907.5,484.0 1915.5,493.4 1923.5,493.4 1931.5,493.8 1939.5,494.2 1947.5,494.5 1955.5,503.9 1963.5,513.5 1971.5,527.8 1979.5,542.3 1987.5,551.3 1995.5,560.5 2003.5,559.1 2011.5,557.6 2019.5,551.5 2027.5,545.5 2035.5,540.4 2043.5,535.6 2051.5,535.6 2059.5,535.6 2067.5,532.5 2075.5,506.6 2083.5,465.9 2091.5,414.4 2099.5,384.6 2107.5,372.8 2115.5,383.7 2123.5,399.9 2131.5,418.6 2139.5,421.5 2147.5,413.5 2155.5,390.9 2163.5,367.7 2171.5,362.5 2179.5,373.7 2187.5,403.6 2195.5,445.1 2203.5,489.4 2211.5,526.5 2219.5,554.5 2227.5,573.5 2235.5,580.6 2243.5,579.5 2251.5,570.5 2259.5,569.6 2267.5,577.5 2275.5,587.1 2283.5,593.4 2291.5,594.3 2299.5,594.3 2307.5,585.3" stroke="#f00000" stroke-width="1.15"/>
<polyline points="83.5,534.7 91.5,465.9 99.5,402.6 107.5,431.6 115.5,470.5 123.5,508.8 131.5,512.4 139.5,513.5 147.5,525.6 155.5,531.6 163.5,523.6 171.5,539.2 179.5,550.9 187.5,558.5 195.5,518.4 203.5,420.7 211.5,375.5 219.5,375.5 227.5,409.9 235.5,458.7 243.5,483.1 251.5,522.0 259.5,555.5 267.5,588.5 275.5,590.4 283.5,590.4 291.5,593.4 299.5,588.5 307.5,563.6 315.5,543.7 323.5,534.7 331.5,532.5 339.5,545.5 347.5,520.6 355.5,567.6 363.5,563.6 371.5,555.5 379.5,494.9 387.5,461.4 395.5,455.6 403.5,480.4 411.5,481.5 419.5,474.1 427.5,443.3 435.5,421.6 443.5,427.6 451.5,441.5 459.5,457.3 467.5,486.7 475.5,522.9 483.5,559.6 491.5,564.5 499.5,575.7 507.5,568.5 515.5,553.6 523.5,540.4 531.5,522.9 539.5,513.0 547.5,504.5 555.5,456.5 563.5,478.2 571.5,462.7 579.5,483.7 587.5,405.4 595.5,385.5 603.5,353.5 611.5,377.3 619.5,386.7 627.5,417.5 635.5,428.5 643.5,458.7 651.5,493.6 659.5,498.5 667.5,465.9 675.5,394.5 683.5,386.6 691.5,390.5 699.5,424.3 707.5,454.4 715.5,454.4 723.5,485.8 731.5,513.0 739.5,570.8 747.5,590.7 755.5,592.5 763.5,593.6 771.5,574.4 779.5,545.5 787.5,513.5 795.5,516.6 803.5,524.5 811.5,517.5 819.5,514.4 827.5,537.4 835.5,543.3 843.5,516.6 851.5,473.2 859.5,429.8 867.5,361.1 875.5,324.5 883.5,339.4 891.5,344.4 899.5,356.5 907.5,366.5 915.5,392.7 923.5,405.5 931.5,380.4 939.5,383.7 947.5,393.6 955.5,454.7 963.5,479.5 971.5,507.5 979.5,533.8 987.5,546.4 995.5,498.5 1003.5,474.1 1011.5,452.6 1019.5,453.6 1027.5,384.6 1035.5,332.5 1043.5,345.7 1051.5,399.0 1059.5,428.5 1067.5,430.5 1075.5,406.6 1083.5,413.5 1091.5,420.7 1099.5,447.9 1107.5,474.1 1115.5,508.4 1123.5,543.7 1131.5,567.2 1139.5,589.8 1147.5,592.0 1155.5,594.0 1163.5,596.5 1171.5,596.5 1179.5,594.3 1187.5,579.5 1195.5,580.6 1203.5,571.5 1211.5,582.6 1219.5,572.6 1227.5,562.7 1235.5,552.4 1243.5,560.5 1251.5,581.7 1259.5,587.5 1267.5,588.4 1275.5,588.4 1283.5,580.8 1291.5,556.4 1299.5,540.4 1307.5,538.3 1315.5,531.4 1323.5,533.6 1331.5,516.2 1339.5,517.5 1347.5,539.2 1355.5,552.7 1363.5,570.5 1371.5,551.8 1379.5,532.5 1387.5,521.1 1395.5,503.6 1403.5,491.6 1411.5,421.6 1419.5,390.5 1427.5,404.5 1435.5,442.4 1443.5,486.7 1451.5,509.3 1459.5,534.7 1467.5,519.3 1475.5,462.3 1483.5,397.6 1491.5,394.5 1499.5,440.6 1507.5,503.6 1515.5,532.8 1523.5,561.4 1531.5,564.5 1539.5,509.3 1547.5,429.8 1555.5,396.7 1563.5,431.6 1571.5,484.0 1579.5,534.7 1587.5,539.5 1595.5,531.0 1603.5,509.3 1611.5,495.4 1619.5,501.2 1627.5,465.4 1635.5,455.1 1643.5,436.6 1651.5,460.9 1659.5,484.9 1667.5,529.2 1675.5,571.7 1683.5,586.2 1691.5,529.2 1699.5,459.6 1707.5,454.5 1715.5,483.1 1723.5,512.4 1731.5,494.9 1739.5,468.7 1747.5,463.6 1755.5,494.9 1763.5,533.8 1771.5,567.2 1779.5,575.7 1787.5,581.7 1795.5,578.1 1803.5,580.2 1811.5,538.3 1819.5,478.6 1827.5,424.3 1835.5,396.7 1843.5,395.1 1851.5,393.4 1859.5,415.3 1867.5,437.0 1875.5,457.8 1883.5,479.1 1891.5,493.1 1899.5,506.4 1907.5,499.9 1915.5,493.4 1923.5,486.9 1931.5,480.4 1939.5,494.9 1947.5,509.3 1955.5,529.8 1963.5,550.4 1971.5,559.1 1979.5,567.6 1987.5,565.6 1995.5,563.6 2003.5,553.1 2011.5,542.8 2019.5,536.1 2027.5,529.4 2035.5,532.5 2043.5,535.6 2051.5,537.9 2059.5,540.4 2067.5,522.9 2075.5,458.7 2083.5,409.9 2091.5,373.7 2099.5,367.7 2107.5,374.6 2115.5,408.6 2123.5,414.4 2131.5,431.2 2139.5,417.1 2147.5,390.0 2155.5,360.7 2163.5,350.6 2171.5,375.5 2179.5,397.2 2187.5,442.4 2195.5,488.5 2203.5,531.0 2211.5,559.1 2219.5,573.5 2227.5,588.4 2235.5,579.9 2243.5,567.6 2251.5,564.7 2259.5,577.2 2267.5,590.4 2275.5,595.4 2283.5,593.6 2291.5,594.3 2299.5,594.3 2307.5,566.3" stroke="#40e800" stroke-width="1.15"/>
</g>
<g clip-path="url(#l3)">
<line x1="82.0" y1="648.5" x2="86.0" y2="648.5" stroke="#ff0" stroke-width="1" shape-rendering="crispEdges"/>
<line x1="2346.0" y1="648.5" x2="2350.0" y2="648.5" stroke="#ff0" stroke-width="1" shape-rendering="crispEdges"/>
<text class="b" x="77.5" y="653.1" text-anchor="end">0,009000</text>
<text class="b" x="2354.5" y="653.1">0,009000</text>
<line x1="82.0" y1="696.5" x2="86.0" y2="696.5" stroke="#ff0" stroke-width="1" shape-rendering="crispEdges"/>
<line x1="2346.0" y1="696.5" x2="2350.0" y2="696.5" stroke="#ff0" stroke-width="1" shape-rendering="crispEdges"/>
<text class="b" x="77.5" y="701.1" text-anchor="end">0,008000</text>
<text class="b" x="2354.5" y="701.1">0,008000</text>
<line x1="82.0" y1="744.5" x2="86.0" y2="744.5" stroke="#ff0" stroke-width="1" shape-rendering="crispEdges"/>
<line x1="2346.0" y1="744.5" x2="2350.0" y2="744.5" stroke="#ff0" stroke-width="1" shape-rendering="crispEdges"/>
<text class="b" x="77.5" y="749.1" text-anchor="end">0,007000</text>
<text class="b" x="2354.5" y="749.1">0,007000</text>
<line x1="82.0" y1="792.5" x2="86.0" y2="792.5" stroke="#ff0" stroke-width="1" shape-rendering="crispEdges"/>
<line x1="2346.0" y1="792.5" x2="2350.0" y2="792.5" stroke="#ff0" stroke-width="1" shape-rendering="crispEdges"/>
<text class="b" x="77.5" y="797.1" text-anchor="end">0,006000</text>
<text class="b" x="2354.5" y="797.1">0,006000</text>
<line x1="82.0" y1="841.5" x2="86.0" y2="841.5" stroke="#ff0" stroke-width="1" shape-rendering="crispEdges"/>
<line x1="2346.0" y1="841.5" x2="2350.0" y2="841.5" stroke="#ff0" stroke-width="1" shape-rendering="crispEdges"/>
<text class="b" x="77.5" y="846.1" text-anchor="end">0,005000</text>
<text class="b" x="2354.5" y="846.1">0,005000</text>
<line x1="82.0" y1="889.5" x2="86.0" y2="889.5" stroke="#ff0" stroke-width="1" shape-rendering="crispEdges"/>
<line x1="2346.0" y1="889.5" x2="2350.0" y2="889.5" stroke="#ff0" stroke-width="1" shape-rendering="crispEdges"/>
<text class="b" x="77.5" y="894.1" text-anchor="end">0,004000</text>
<text class="b" x="2354.5" y="894.1">0,004000</text>
<line x1="82.0" y1="937.5" x2="86.0" y2="937.5" stroke="#ff0" stroke-width="1" shape-rendering="crispEdges"/>
<line x1="2346.0" y1="937.5" x2="2350.0" y2="937.5" stroke="#ff0" stroke-width="1" shape-rendering="crispEdges"/>
<text class="b" x="77.5" y="942.1" text-anchor="end">0,003000</text>
<text class="b" x="2354.5" y="942.1">0,003000</text>
<line x1="84.0" y1="672.5" x2="86.0" y2="672.5" stroke="#ff0" stroke-width="1" shape-rendering="crispEdges"/>
<line x1="2346.0" y1="672.5" x2="2348.0" y2="672.5" stroke="#ff0" stroke-width="1" shape-rendering="crispEdges"/>
<line x1="84.0" y1="720.5" x2="86.0" y2="720.5" stroke="#ff0" stroke-width="1" shape-rendering="crispEdges"/>
<line x1="2346.0" y1="720.5" x2="2348.0" y2="720.5" stroke="#ff0" stroke-width="1" shape-rendering="crispEdges"/>
<line x1="84.0" y1="768.5" x2="86.0" y2="768.5" stroke="#ff0" stroke-width="1" shape-rendering="crispEdges"/>
<line x1="2346.0" y1="768.5" x2="2348.0" y2="768.5" stroke="#ff0" stroke-width="1" shape-rendering="crispEdges"/>
<line x1="84.0" y1="817.5" x2="86.0" y2="817.5" stroke="#ff0" stroke-width="1" shape-rendering="crispEdges"/>
<line x1="2346.0" y1="817.5" x2="2348.0" y2="817.5" stroke="#ff0" stroke-width="1" shape-rendering="crispEdges"/>
<line x1="84.0" y1="865.5" x2="86.0" y2="865.5" stroke="#ff0" stroke-width="1" shape-rendering="crispEdges"/>
<line x1="2346.0" y1="865.5" x2="2348.0" y2="865.5" stroke="#ff0" stroke-width="1" shape-rendering="crispEdges"/>
<line x1="84.0" y1="913.5" x2="86.0" y2="913.5" stroke="#ff0" stroke-width="1" shape-rendering="crispEdges"/>
<line x1="2346.0" y1="913.5" x2="2348.0" y2="913.5" stroke="#ff0" stroke-width="1" shape-rendering="crispEdges"/>
</g>
<text class="t" x="91.3" y="625">Neocortex</text>
<g clip-path="url(#c3)" fill="none">
<polyline points="83.5,804.2 91.5,778.9 99.5,742.7 107.5,739.1 115.5,778.9 123.5,800.6 131.5,816.8 139.5,814.1 147.5,833.1 155.5,855.2 163.5,855.2 171.5,833.1 179.5,815.4 187.5,849.4 195.5,860.2 203.5,875.1 211.5,874.3 219.5,822.3 227.5,849.4 235.5,874.7 243.5,897.3 251.5,867.5 259.5,892.8 267.5,909.1 275.5,869.3 283.5,900.0 291.5,872.9 299.5,864.8 307.5,871.1 315.5,874.7 323.5,891.9 331.5,856.6 339.5,872.0 347.5,888.8 355.5,863.8 363.5,849.4 371.5,833.1 379.5,797.8 387.5,791.5 395.5,785.2 403.5,782.1 411.5,790.6 419.5,789.7 427.5,828.6 435.5,775.2 443.5,760.8 451.5,787.9 459.5,806.0 467.5,846.7 475.5,846.1 483.5,864.8 491.5,860.8 499.5,860.2 507.5,866.6 515.5,879.2 523.5,844.0 531.5,815.0 539.5,778.9 547.5,735.5 555.5,736.4 563.5,714.7 571.5,703.8 579.5,721.9 587.5,706.5 595.5,678.5 603.5,663.1 611.5,656.8 619.5,638.2 627.5,663.1 635.5,681.2 643.5,682.7 651.5,670.4 659.5,683.4 667.5,653.2 675.5,637.4 683.5,644.1 691.5,644.1 699.5,696.6 707.5,737.3 715.5,718.3 723.5,717.0 731.5,705.6 739.5,709.2 747.5,744.5 755.5,750.8 763.5,795.1 771.5,814.7 779.5,812.3 787.5,751.7 795.5,740.5 803.5,760.8 811.5,804.2 819.5,804.2 827.5,735.5 835.5,754.4 843.5,783.4 851.5,795.1 859.5,807.4 867.5,798.7 875.5,746.3 883.5,733.6 891.5,705.6 899.5,670.4 907.5,650.5 915.5,690.2 923.5,721.0 931.5,734.6 939.5,718.3 947.5,680.3 955.5,715.6 963.5,762.6 971.5,794.2 979.5,813.2 987.5,806.0 995.5,813.2 1003.5,812.9 1011.5,798.7 1019.5,800.6 1027.5,761.7 1035.5,772.5 1043.5,778.9 1051.5,806.0 1059.5,853.0 1067.5,830.4 1075.5,833.1 1083.5,825.0 1091.5,821.4 1099.5,818.6 1107.5,816.3 1115.5,821.4 1123.5,825.0 1131.5,798.7 1139.5,764.0 1147.5,779.8 1155.5,793.3 1163.5,849.4 1171.5,838.5 1179.5,836.7 1187.5,802.4 1195.5,810.0 1203.5,806.9 1211.5,815.0 1219.5,864.8 1227.5,881.0 1235.5,865.7 1243.5,883.7 1251.5,893.1 1259.5,889.2 1267.5,890.1 1275.5,891.0 1283.5,875.6 1291.5,892.8 1299.5,884.6 1307.5,850.3 1315.5,852.1 1323.5,844.0 1331.5,834.9 1339.5,820.4 1347.5,778.9 1355.5,778.0 1363.5,768.0 1371.5,756.3 1379.5,764.4 1387.5,820.4 1395.5,818.3 1403.5,814.1 1411.5,838.2 1419.5,759.0 1427.5,735.1 1435.5,739.1 1443.5,744.5 1451.5,733.6 1459.5,737.3 1467.5,740.9 1475.5,745.4 1483.5,697.5 1491.5,697.5 1499.5,667.6 1507.5,693.9 1515.5,718.3 1523.5,679.4 1531.5,695.7 1539.5,679.4 1547.5,673.1 1555.5,648.3 1563.5,715.6 1571.5,778.9 1579.5,833.1 1587.5,864.8 1595.5,880.1 1603.5,882.3 1611.5,878.3 1619.5,885.5 1627.5,891.5 1635.5,880.5 1643.5,871.6 1651.5,874.7 1659.5,888.3 1667.5,908.2 1675.5,896.4 1683.5,914.5 1691.5,928.9 1699.5,938.0 1707.5,907.2 1715.5,838.2 1723.5,833.1 1731.5,822.3 1739.5,803.3 1747.5,757.5 1755.5,761.7 1763.5,774.3 1771.5,780.7 1779.5,807.8 1787.5,801.5 1795.5,823.2 1803.5,806.9 1811.5,831.3 1819.5,794.2 1827.5,780.7 1835.5,789.7 1843.5,789.3 1851.5,789.3 1859.5,777.0 1867.5,766.2 1875.5,742.7 1883.5,718.3 1891.5,720.6 1899.5,721.0 1907.5,715.6 1915.5,710.1 1923.5,711.6 1931.5,712.3 1939.5,713.4 1947.5,714.7 1955.5,695.7 1963.5,675.4 1971.5,683.9 1979.5,692.4 1987.5,708.3 1995.5,722.4 2003.5,712.9 2011.5,703.8 2019.5,717.4 2027.5,730.0 2035.5,745.4 2043.5,758.1 2051.5,767.1 2059.5,778.9 2067.5,796.9 2075.5,809.2 2083.5,806.9 2091.5,806.9 2099.5,778.9 2107.5,745.4 2115.5,782.5 2123.5,793.7 2131.5,728.6 2139.5,730.9 2147.5,763.5 2155.5,744.5 2163.5,713.8 2171.5,676.1 2179.5,715.6 2187.5,740.0 2195.5,778.0 2203.5,805.1 2211.5,808.7 2219.5,825.9 2227.5,864.8 2235.5,890.1 2243.5,897.3 2251.5,869.3 2259.5,894.6 2267.5,904.5 2275.5,892.8 2283.5,882.8 2291.5,886.5 2299.5,916.3 2307.5,923.5" stroke="#949494" stroke-width="0.9" stroke-dasharray="3 3"/>
<polyline points="83.5,807.8 91.5,796.6 99.5,782.1 107.5,767.6 115.5,766.6 123.5,775.2 131.5,787.9 139.5,797.8 147.5,808.7 155.5,822.3 163.5,834.6 171.5,837.6 179.5,832.6 187.5,835.5 195.5,844.0 203.5,852.5 211.5,860.8 219.5,853.5 227.5,850.6 235.5,857.5 243.5,869.3 251.5,871.6 259.5,877.4 267.5,886.5 275.5,884.6 283.5,888.6 291.5,885.5 299.5,879.6 307.5,875.6 315.5,875.1 323.5,879.6 331.5,874.7 339.5,873.4 347.5,877.6 355.5,874.7 363.5,867.5 371.5,856.6 379.5,840.3 387.5,824.1 395.5,810.5 403.5,799.7 411.5,794.6 419.5,792.4 427.5,800.6 435.5,796.0 443.5,785.7 451.5,783.4 459.5,789.3 467.5,805.1 475.5,819.5 483.5,834.0 491.5,844.9 499.5,851.6 507.5,857.0 515.5,863.5 523.5,861.1 531.5,849.4 539.5,829.5 547.5,799.7 555.5,776.1 563.5,756.3 571.5,737.6 579.5,729.7 587.5,721.0 595.5,707.4 603.5,693.9 611.5,680.8 619.5,667.6 627.5,662.6 635.5,665.8 643.5,670.4 651.5,672.2 659.5,675.8 667.5,671.3 675.5,661.3 683.5,655.0 691.5,650.5 699.5,662.6 707.5,683.4 715.5,697.5 723.5,705.6 731.5,707.8 739.5,708.3 747.5,718.3 755.5,728.8 763.5,749.0 771.5,769.8 779.5,785.7 787.5,781.6 795.5,769.8 803.5,766.6 811.5,775.2 819.5,784.6 827.5,775.2 835.5,766.6 843.5,770.2 851.5,777.0 859.5,786.5 867.5,791.5 875.5,781.6 883.5,768.9 891.5,749.9 899.5,725.5 907.5,699.7 915.5,691.5 923.5,696.6 931.5,707.4 939.5,713.8 947.5,706.5 955.5,706.5 963.5,719.5 971.5,742.7 979.5,766.2 987.5,780.7 995.5,792.4 1003.5,801.5 1011.5,802.4 1019.5,802.0 1027.5,791.5 1035.5,784.6 1043.5,781.6 1051.5,786.5 1059.5,805.1 1067.5,814.1 1075.5,822.3 1083.5,823.5 1091.5,824.6 1099.5,823.5 1107.5,822.3 1115.5,822.3 1123.5,822.3 1131.5,815.0 1139.5,807.4 1147.5,804.2 1155.5,801.1 1163.5,811.4 1171.5,820.4 1179.5,827.7 1187.5,823.2 1195.5,818.6 1203.5,814.7 1211.5,813.8 1219.5,825.9 1227.5,843.4 1235.5,852.5 1243.5,862.4 1251.5,872.5 1259.5,879.6 1267.5,883.4 1275.5,886.8 1283.5,884.6 1291.5,886.5 1299.5,886.5 1307.5,877.4 1315.5,868.4 1323.5,860.2 1331.5,852.1 1339.5,840.3 1347.5,822.3 1355.5,806.9 1363.5,793.3 1371.5,780.7 1379.5,773.4 1387.5,784.6 1395.5,795.1 1403.5,802.4 1411.5,814.1 1419.5,802.4 1427.5,783.4 1435.5,768.5 1443.5,757.5 1451.5,749.6 1459.5,744.5 1467.5,742.7 1475.5,742.1 1483.5,730.9 1491.5,720.1 1499.5,704.7 1507.5,698.4 1515.5,701.5 1523.5,697.5 1531.5,695.7 1539.5,691.7 1547.5,685.2 1555.5,675.4 1563.5,682.7 1571.5,708.3 1579.5,743.6 1587.5,781.6 1595.5,815.9 1603.5,842.1 1611.5,859.3 1619.5,869.3 1627.5,877.4 1635.5,881.0 1643.5,878.3 1651.5,877.4 1659.5,879.8 1667.5,887.4 1675.5,891.5 1683.5,897.7 1691.5,907.2 1699.5,917.6 1707.5,916.8 1715.5,894.6 1723.5,874.7 1731.5,855.7 1739.5,837.6 1747.5,815.4 1755.5,795.7 1763.5,785.5 1771.5,781.6 1779.5,787.5 1787.5,793.0 1795.5,801.5 1803.5,804.7 1811.5,812.7 1819.5,809.2 1827.5,801.5 1835.5,796.6 1843.5,795.1 1851.5,793.3 1859.5,789.7 1867.5,785.5 1875.5,775.2 1883.5,765.3 1891.5,756.8 1899.5,749.0 1907.5,742.3 1915.5,735.8 1923.5,731.5 1931.5,727.7 1939.5,724.6 1947.5,721.5 1955.5,715.2 1963.5,708.7 1971.5,705.1 1979.5,701.5 1987.5,702.9 1995.5,704.4 2003.5,704.4 2011.5,704.4 2019.5,707.8 2027.5,711.6 2035.5,718.3 2043.5,725.5 2051.5,733.6 2059.5,741.8 2067.5,759.5 2075.5,776.5 2083.5,787.9 2091.5,795.5 2099.5,794.6 2107.5,782.5 2115.5,779.4 2123.5,782.5 2131.5,769.5 2139.5,756.3 2147.5,755.3 2155.5,751.7 2163.5,740.5 2171.5,722.4 2179.5,715.6 2187.5,719.5 2195.5,735.5 2203.5,757.5 2211.5,775.2 2219.5,792.4 2227.5,815.0 2235.5,837.6 2243.5,860.2 2251.5,867.5 2259.5,877.4 2267.5,886.8 2275.5,890.6 2283.5,890.1 2291.5,888.3 2299.5,896.4 2307.5,904.5" stroke="#00d0d8" stroke-width="1.25"/>
<polyline points="83.5,805.1 91.5,787.0 99.5,766.2 107.5,753.9 115.5,766.2 123.5,784.3 131.5,800.6 139.5,806.0 147.5,819.5 155.5,837.3 163.5,846.3 171.5,837.6 179.5,827.7 187.5,839.4 195.5,851.2 203.5,862.0 211.5,868.4 219.5,845.4 227.5,848.5 235.5,864.2 243.5,881.4 251.5,874.7 259.5,883.7 267.5,896.4 275.5,882.8 283.5,891.5 291.5,881.9 299.5,872.5 307.5,872.5 315.5,874.7 323.5,883.4 331.5,870.5 339.5,871.6 347.5,880.5 355.5,872.5 363.5,860.2 371.5,847.6 379.5,823.2 387.5,807.8 395.5,796.0 403.5,788.8 411.5,789.7 419.5,789.7 427.5,808.3 435.5,792.4 443.5,775.6 451.5,782.1 459.5,793.3 467.5,821.4 475.5,835.8 483.5,849.4 491.5,855.3 499.5,857.5 507.5,862.4 515.5,871.4 523.5,858.4 531.5,837.6 539.5,809.6 547.5,771.6 555.5,753.5 563.5,734.6 571.5,719.5 579.5,721.5 587.5,713.8 595.5,696.6 603.5,679.4 611.5,667.6 619.5,653.5 627.5,657.7 635.5,668.5 643.5,676.7 651.5,673.6 659.5,678.5 667.5,666.7 675.5,652.8 683.5,648.7 691.5,646.5 699.5,672.2 707.5,704.4 715.5,711.0 723.5,714.7 731.5,709.2 739.5,709.2 747.5,726.4 755.5,739.1 763.5,768.0 771.5,790.6 779.5,801.5 787.5,778.9 795.5,758.6 803.5,762.0 811.5,783.4 819.5,793.3 827.5,764.4 835.5,759.9 843.5,771.6 851.5,783.4 859.5,795.5 867.5,796.4 875.5,773.4 883.5,753.5 891.5,730.9 899.5,702.9 907.5,675.4 915.5,682.7 923.5,702.0 931.5,718.3 939.5,719.5 947.5,699.7 955.5,705.6 963.5,731.8 971.5,762.6 979.5,788.8 987.5,797.3 995.5,805.4 1003.5,809.6 1011.5,803.3 1019.5,802.4 1027.5,781.6 1035.5,776.5 1043.5,777.6 1051.5,791.5 1059.5,823.5 1067.5,825.0 1075.5,829.5 1083.5,826.8 1091.5,825.0 1099.5,822.3 1107.5,820.4 1115.5,821.7 1123.5,824.1 1131.5,808.7 1139.5,793.7 1147.5,794.6 1155.5,795.5 1163.5,822.3 1171.5,830.4 1179.5,833.5 1187.5,818.6 1195.5,815.0 1203.5,810.5 1211.5,812.9 1219.5,837.6 1227.5,860.2 1235.5,862.4 1243.5,872.9 1251.5,883.4 1259.5,886.5 1267.5,888.3 1275.5,889.5 1283.5,882.8 1291.5,887.4 1299.5,887.4 1307.5,867.5 1315.5,860.2 1323.5,852.1 1331.5,843.4 1339.5,831.7 1347.5,806.0 1355.5,791.5 1363.5,779.8 1371.5,767.6 1379.5,767.6 1387.5,793.3 1395.5,806.3 1403.5,809.6 1411.5,825.0 1419.5,792.4 1427.5,763.7 1435.5,751.7 1443.5,748.5 1451.5,740.5 1459.5,739.6 1467.5,740.5 1475.5,742.7 1483.5,721.0 1491.5,708.0 1499.5,688.4 1507.5,692.6 1515.5,705.6 1523.5,692.4 1531.5,694.4 1539.5,686.6 1547.5,680.3 1555.5,664.6 1563.5,690.2 1571.5,740.0 1579.5,787.0 1587.5,825.9 1595.5,851.2 1603.5,867.5 1611.5,872.5 1619.5,879.2 1627.5,885.5 1635.5,883.4 1643.5,877.4 1651.5,876.5 1659.5,881.9 1667.5,894.6 1675.5,895.9 1683.5,905.4 1691.5,916.3 1699.5,927.5 1707.5,916.3 1715.5,877.4 1723.5,855.7 1731.5,838.2 1739.5,820.4 1747.5,789.7 1755.5,776.5 1763.5,775.6 1771.5,777.6 1779.5,793.3 1787.5,797.8 1795.5,810.5 1803.5,808.7 1811.5,819.5 1819.5,806.0 1827.5,792.8 1835.5,791.5 1843.5,791.0 1851.5,790.6 1859.5,783.4 1867.5,776.5 1875.5,761.7 1883.5,747.6 1891.5,740.9 1899.5,734.6 1907.5,728.6 1915.5,722.8 1923.5,720.1 1931.5,717.7 1939.5,716.5 1947.5,715.2 1955.5,705.6 1963.5,695.3 1971.5,694.4 1979.5,693.5 1987.5,701.1 1995.5,708.7 2003.5,707.4 2011.5,706.0 2019.5,711.9 2027.5,717.7 2035.5,728.2 2043.5,738.2 2051.5,747.2 2059.5,757.5 2067.5,777.6 2075.5,793.3 2083.5,799.3 2091.5,803.3 2099.5,792.4 2107.5,770.7 2115.5,777.0 2123.5,785.2 2131.5,756.3 2139.5,744.5 2147.5,754.4 2155.5,749.6 2163.5,730.9 2171.5,703.8 2179.5,709.2 2187.5,724.6 2195.5,751.7 2203.5,778.9 2211.5,794.2 2219.5,810.5 2227.5,837.6 2235.5,864.8 2243.5,881.6 2251.5,875.6 2259.5,885.5 2267.5,895.5 2275.5,894.6 2283.5,889.2 2291.5,887.4 2299.5,902.7 2307.5,913.6" stroke="#e0d000" stroke-width="1.25"/>
</g>
<g clip-path="url(#l4)">
<line x1="82.0" y1="1001.5" x2="86.0" y2="1001.5" stroke="#ff0" stroke-width="1" shape-rendering="crispEdges"/>
<line x1="2346.0" y1="1001.5" x2="2350.0" y2="1001.5" stroke="#ff0" stroke-width="1" shape-rendering="crispEdges"/>
<text class="b" x="77.5" y="1005.8" text-anchor="end">5.250,00</text>
<text class="b" x="2354.5" y="1005.8">5.250,00</text>
<line x1="82.0" y1="1033.5" x2="86.0" y2="1033.5" stroke="#ff0" stroke-width="1" shape-rendering="crispEdges"/>
<line x1="2346.0" y1="1033.5" x2="2350.0" y2="1033.5" stroke="#ff0" stroke-width="1" shape-rendering="crispEdges"/>
<text class="b" x="77.5" y="1037.8" text-anchor="end">5.200,00</text>
<text class="b" x="2354.5" y="1037.8">5.200,00</text>
<line x1="82.0" y1="1064.5" x2="86.0" y2="1064.5" stroke="#ff0" stroke-width="1" shape-rendering="crispEdges"/>
<line x1="2346.0" y1="1064.5" x2="2350.0" y2="1064.5" stroke="#ff0" stroke-width="1" shape-rendering="crispEdges"/>
<text class="b" x="77.5" y="1068.8" text-anchor="end">5.150,00</text>
<text class="b" x="2354.5" y="1068.8">5.150,00</text>
<line x1="82.0" y1="1096.5" x2="86.0" y2="1096.5" stroke="#ff0" stroke-width="1" shape-rendering="crispEdges"/>
<line x1="2346.0" y1="1096.5" x2="2350.0" y2="1096.5" stroke="#ff0" stroke-width="1" shape-rendering="crispEdges"/>
<text class="b" x="77.5" y="1100.8" text-anchor="end">5.100,00</text>
<text class="b" x="2354.5" y="1100.8">5.100,00</text>
<line x1="82.0" y1="1128.5" x2="86.0" y2="1128.5" stroke="#ff0" stroke-width="1" shape-rendering="crispEdges"/>
<line x1="2346.0" y1="1128.5" x2="2350.0" y2="1128.5" stroke="#ff0" stroke-width="1" shape-rendering="crispEdges"/>
<text class="b" x="77.5" y="1132.8" text-anchor="end">5.050,00</text>
<text class="b" x="2354.5" y="1132.8">5.050,00</text>
<line x1="82.0" y1="1160.5" x2="86.0" y2="1160.5" stroke="#ff0" stroke-width="1" shape-rendering="crispEdges"/>
<line x1="2346.0" y1="1160.5" x2="2350.0" y2="1160.5" stroke="#ff0" stroke-width="1" shape-rendering="crispEdges"/>
<text class="b" x="77.5" y="1164.8" text-anchor="end">5.000,00</text>
<text class="b" x="2354.5" y="1164.8">5.000,00</text>
<line x1="82.0" y1="1191.5" x2="86.0" y2="1191.5" stroke="#ff0" stroke-width="1" shape-rendering="crispEdges"/>
<line x1="2346.0" y1="1191.5" x2="2350.0" y2="1191.5" stroke="#ff0" stroke-width="1" shape-rendering="crispEdges"/>
<text class="b" x="77.5" y="1195.8" text-anchor="end">4.950,00</text>
<text class="b" x="2354.5" y="1195.8">4.950,00</text>
<line x1="82.0" y1="1223.5" x2="86.0" y2="1223.5" stroke="#ff0" stroke-width="1" shape-rendering="crispEdges"/>
<line x1="2346.0" y1="1223.5" x2="2350.0" y2="1223.5" stroke="#ff0" stroke-width="1" shape-rendering="crispEdges"/>
<text class="b" x="77.5" y="1227.8" text-anchor="end">4.900,00</text>
<text class="b" x="2354.5" y="1227.8">4.900,00</text>
<line x1="82.0" y1="1255.5" x2="86.0" y2="1255.5" stroke="#ff0" stroke-width="1" shape-rendering="crispEdges"/>
<line x1="2346.0" y1="1255.5" x2="2350.0" y2="1255.5" stroke="#ff0" stroke-width="1" shape-rendering="crispEdges"/>
<text class="b" x="77.5" y="1259.8" text-anchor="end">4.850,00</text>
<text class="b" x="2354.5" y="1259.8">4.850,00</text>
<line x1="82.0" y1="1286.5" x2="86.0" y2="1286.5" stroke="#ff0" stroke-width="1" shape-rendering="crispEdges"/>
<line x1="2346.0" y1="1286.5" x2="2350.0" y2="1286.5" stroke="#ff0" stroke-width="1" shape-rendering="crispEdges"/>
<text class="b" x="77.5" y="1290.8" text-anchor="end">4.800,00</text>
<text class="b" x="2354.5" y="1290.8">4.800,00</text>
<line x1="82.0" y1="1318.5" x2="86.0" y2="1318.5" stroke="#ff0" stroke-width="1" shape-rendering="crispEdges"/>
<line x1="2346.0" y1="1318.5" x2="2350.0" y2="1318.5" stroke="#ff0" stroke-width="1" shape-rendering="crispEdges"/>
<text class="b" x="77.5" y="1322.8" text-anchor="end">4.750,00</text>
<text class="b" x="2354.5" y="1322.8">4.750,00</text>
<line x1="82.0" y1="1350.5" x2="86.0" y2="1350.5" stroke="#ff0" stroke-width="1" shape-rendering="crispEdges"/>
<line x1="2346.0" y1="1350.5" x2="2350.0" y2="1350.5" stroke="#ff0" stroke-width="1" shape-rendering="crispEdges"/>
<text class="b" x="77.5" y="1354.8" text-anchor="end">4.700,00</text>
<text class="b" x="2354.5" y="1354.8">4.700,00</text>
<line x1="82.0" y1="1382.5" x2="86.0" y2="1382.5" stroke="#ff0" stroke-width="1" shape-rendering="crispEdges"/>
<line x1="2346.0" y1="1382.5" x2="2350.0" y2="1382.5" stroke="#ff0" stroke-width="1" shape-rendering="crispEdges"/>
<text class="b" x="77.5" y="1386.8" text-anchor="end">4.650,00</text>
<text class="b" x="2354.5" y="1386.8">4.650,00</text>
<line x1="82.0" y1="1413.5" x2="86.0" y2="1413.5" stroke="#ff0" stroke-width="1" shape-rendering="crispEdges"/>
<line x1="2346.0" y1="1413.5" x2="2350.0" y2="1413.5" stroke="#ff0" stroke-width="1" shape-rendering="crispEdges"/>
<text class="b" x="77.5" y="1417.8" text-anchor="end">4.600,00</text>
<text class="b" x="2354.5" y="1417.8">4.600,00</text>
<line x1="82.0" y1="1445.5" x2="86.0" y2="1445.5" stroke="#ff0" stroke-width="1" shape-rendering="crispEdges"/>
<line x1="2346.0" y1="1445.5" x2="2350.0" y2="1445.5" stroke="#ff0" stroke-width="1" shape-rendering="crispEdges"/>
<text class="b" x="77.5" y="1449.8" text-anchor="end">4.550,00</text>
<text class="b" x="2354.5" y="1449.8">4.550,00</text>
<line x1="82.0" y1="1477.5" x2="86.0" y2="1477.5" stroke="#ff0" stroke-width="1" shape-rendering="crispEdges"/>
<line x1="2346.0" y1="1477.5" x2="2350.0" y2="1477.5" stroke="#ff0" stroke-width="1" shape-rendering="crispEdges"/>
<text class="b" x="77.5" y="1481.8" text-anchor="end">4.500,00</text>
<text class="b" x="2354.5" y="1481.8">4.500,00</text>
<line x1="82.0" y1="1508.5" x2="86.0" y2="1508.5" stroke="#ff0" stroke-width="1" shape-rendering="crispEdges"/>
<line x1="2346.0" y1="1508.5" x2="2350.0" y2="1508.5" stroke="#ff0" stroke-width="1" shape-rendering="crispEdges"/>
<text class="b" x="77.5" y="1512.8" text-anchor="end">4.450,00</text>
<text class="b" x="2354.5" y="1512.8">4.450,00</text>
<line x1="82.0" y1="1540.5" x2="86.0" y2="1540.5" stroke="#ff0" stroke-width="1" shape-rendering="crispEdges"/>
<line x1="2346.0" y1="1540.5" x2="2350.0" y2="1540.5" stroke="#ff0" stroke-width="1" shape-rendering="crispEdges"/>
<text class="b" x="77.5" y="1544.8" text-anchor="end">4.400,00</text>
<text class="b" x="2354.5" y="1544.8">4.400,00</text>
<line x1="82.0" y1="1572.5" x2="86.0" y2="1572.5" stroke="#ff0" stroke-width="1" shape-rendering="crispEdges"/>
<line x1="2346.0" y1="1572.5" x2="2350.0" y2="1572.5" stroke="#ff0" stroke-width="1" shape-rendering="crispEdges"/>
<text class="b" x="77.5" y="1576.8" text-anchor="end">4.350,00</text>
<text class="b" x="2354.5" y="1576.8">4.350,00</text>
<line x1="82.0" y1="1604.5" x2="86.0" y2="1604.5" stroke="#ff0" stroke-width="1" shape-rendering="crispEdges"/>
<line x1="2346.0" y1="1604.5" x2="2350.0" y2="1604.5" stroke="#ff0" stroke-width="1" shape-rendering="crispEdges"/>
<text class="b" x="77.5" y="1608.8" text-anchor="end">4.300,00</text>
<text class="b" x="2354.5" y="1608.8">4.300,00</text>
<line x1="82.0" y1="1635.5" x2="86.0" y2="1635.5" stroke="#ff0" stroke-width="1" shape-rendering="crispEdges"/>
<line x1="2346.0" y1="1635.5" x2="2350.0" y2="1635.5" stroke="#ff0" stroke-width="1" shape-rendering="crispEdges"/>
<text class="b" x="77.5" y="1639.8" text-anchor="end">4.250,00</text>
<text class="b" x="2354.5" y="1639.8">4.250,00</text>
<line x1="82.0" y1="1667.5" x2="86.0" y2="1667.5" stroke="#ff0" stroke-width="1" shape-rendering="crispEdges"/>
<line x1="2346.0" y1="1667.5" x2="2350.0" y2="1667.5" stroke="#ff0" stroke-width="1" shape-rendering="crispEdges"/>
<text class="b" x="77.5" y="1671.8" text-anchor="end">4.200,00</text>
<text class="b" x="2354.5" y="1671.8">4.200,00</text>
<line x1="82.0" y1="1699.5" x2="86.0" y2="1699.5" stroke="#ff0" stroke-width="1" shape-rendering="crispEdges"/>
<line x1="2346.0" y1="1699.5" x2="2350.0" y2="1699.5" stroke="#ff0" stroke-width="1" shape-rendering="crispEdges"/>
<text class="b" x="77.5" y="1703.8" text-anchor="end">4.150,00</text>
<text class="b" x="2354.5" y="1703.8">4.150,00</text>
<line x1="82.0" y1="1731.5" x2="86.0" y2="1731.5" stroke="#ff0" stroke-width="1" shape-rendering="crispEdges"/>
<line x1="2346.0" y1="1731.5" x2="2350.0" y2="1731.5" stroke="#ff0" stroke-width="1" shape-rendering="crispEdges"/>
<text class="b" x="77.5" y="1735.8" text-anchor="end">4.100,00</text>
<text class="b" x="2354.5" y="1735.8">4.100,00</text>
<line x1="82.0" y1="1762.5" x2="86.0" y2="1762.5" stroke="#ff0" stroke-width="1" shape-rendering="crispEdges"/>
<line x1="2346.0" y1="1762.5" x2="2350.0" y2="1762.5" stroke="#ff0" stroke-width="1" shape-rendering="crispEdges"/>
<text class="b" x="77.5" y="1766.8" text-anchor="end">4.050,00</text>
<text class="b" x="2354.5" y="1766.8">4.050,00</text>
<line x1="82.0" y1="1794.5" x2="86.0" y2="1794.5" stroke="#ff0" stroke-width="1" shape-rendering="crispEdges"/>
<line x1="2346.0" y1="1794.5" x2="2350.0" y2="1794.5" stroke="#ff0" stroke-width="1" shape-rendering="crispEdges"/>
<text class="b" x="77.5" y="1798.8" text-anchor="end">4.000,00</text>
<text class="b" x="2354.5" y="1798.8">4.000,00</text>
<line x1="84.0" y1="985.5" x2="86.0" y2="985.5" stroke="#ff0" stroke-width="1" shape-rendering="crispEdges"/>
<line x1="2346.0" y1="985.5" x2="2348.0" y2="985.5" stroke="#ff0" stroke-width="1" shape-rendering="crispEdges"/>
<line x1="84.0" y1="1017.5" x2="86.0" y2="1017.5" stroke="#ff0" stroke-width="1" shape-rendering="crispEdges"/>
<line x1="2346.0" y1="1017.5" x2="2348.0" y2="1017.5" stroke="#ff0" stroke-width="1" shape-rendering="crispEdges"/>
<line x1="84.0" y1="1048.5" x2="86.0" y2="1048.5" stroke="#ff0" stroke-width="1" shape-rendering="crispEdges"/>
<line x1="2346.0" y1="1048.5" x2="2348.0" y2="1048.5" stroke="#ff0" stroke-width="1" shape-rendering="crispEdges"/>
<line x1="84.0" y1="1080.5" x2="86.0" y2="1080.5" stroke="#ff0" stroke-width="1" shape-rendering="crispEdges"/>
<line x1="2346.0" y1="1080.5" x2="2348.0" y2="1080.5" stroke="#ff0" stroke-width="1" shape-rendering="crispEdges"/>
<line x1="84.0" y1="1112.5" x2="86.0" y2="1112.5" stroke="#ff0" stroke-width="1" shape-rendering="crispEdges"/>
<line x1="2346.0" y1="1112.5" x2="2348.0" y2="1112.5" stroke="#ff0" stroke-width="1" shape-rendering="crispEdges"/>
<line x1="84.0" y1="1144.5" x2="86.0" y2="1144.5" stroke="#ff0" stroke-width="1" shape-rendering="crispEdges"/>
<line x1="2346.0" y1="1144.5" x2="2348.0" y2="1144.5" stroke="#ff0" stroke-width="1" shape-rendering="crispEdges"/>
<line x1="84.0" y1="1175.5" x2="86.0" y2="1175.5" stroke="#ff0" stroke-width="1" shape-rendering="crispEdges"/>
<line x1="2346.0" y1="1175.5" x2="2348.0" y2="1175.5" stroke="#ff0" stroke-width="1" shape-rendering="crispEdges"/>
<line x1="84.0" y1="1207.5" x2="86.0" y2="1207.5" stroke="#ff0" stroke-width="1" shape-rendering="crispEdges"/>
<line x1="2346.0" y1="1207.5" x2="2348.0" y2="1207.5" stroke="#ff0" stroke-width="1" shape-rendering="crispEdges"/>
<line x1="84.0" y1="1239.5" x2="86.0" y2="1239.5" stroke="#ff0" stroke-width="1" shape-rendering="crispEdges"/>
<line x1="2346.0" y1="1239.5" x2="2348.0" y2="1239.5" stroke="#ff0" stroke-width="1" shape-rendering="crispEdges"/>
<line x1="84.0" y1="1271.5" x2="86.0" y2="1271.5" stroke="#ff0" stroke-width="1" shape-rendering="crispEdges"/>
<line x1="2346.0" y1="1271.5" x2="2348.0" y2="1271.5" stroke="#ff0" stroke-width="1" shape-rendering="crispEdges"/>
<line x1="84.0" y1="1302.5" x2="86.0" y2="1302.5" stroke="#ff0" stroke-width="1" shape-rendering="crispEdges"/>
<line x1="2346.0" y1="1302.5" x2="2348.0" y2="1302.5" stroke="#ff0" stroke-width="1" shape-rendering="crispEdges"/>
<line x1="84.0" y1="1334.5" x2="86.0" y2="1334.5" stroke="#ff0" stroke-width="1" shape-rendering="crispEdges"/>
<line x1="2346.0" y1="1334.5" x2="2348.0" y2="1334.5" stroke="#ff0" stroke-width="1" shape-rendering="crispEdges"/>
<line x1="84.0" y1="1366.5" x2="86.0" y2="1366.5" stroke="#ff0" stroke-width="1" shape-rendering="crispEdges"/>
<line x1="2346.0" y1="1366.5" x2="2348.0" y2="1366.5" stroke="#ff0" stroke-width="1" shape-rendering="crispEdges"/>
<line x1="84.0" y1="1397.5" x2="86.0" y2="1397.5" stroke="#ff0" stroke-width="1" shape-rendering="crispEdges"/>
<line x1="2346.0" y1="1397.5" x2="2348.0" y2="1397.5" stroke="#ff0" stroke-width="1" shape-rendering="crispEdges"/>
<line x1="84.0" y1="1429.5" x2="86.0" y2="1429.5" stroke="#ff0" stroke-width="1" shape-rendering="crispEdges"/>
<line x1="2346.0" y1="1429.5" x2="2348.0" y2="1429.5" stroke="#ff0" stroke-width="1" shape-rendering="crispEdges"/>
<line x1="84.0" y1="1461.5" x2="86.0" y2="1461.5" stroke="#ff0" stroke-width="1" shape-rendering="crispEdges"/>
<line x1="2346.0" y1="1461.5" x2="2348.0" y2="1461.5" stroke="#ff0" stroke-width="1" shape-rendering="crispEdges"/>
<line x1="84.0" y1="1493.5" x2="86.0" y2="1493.5" stroke="#ff0" stroke-width="1" shape-rendering="crispEdges"/>
<line x1="2346.0" y1="1493.5" x2="2348.0" y2="1493.5" stroke="#ff0" stroke-width="1" shape-rendering="crispEdges"/>
<line x1="84.0" y1="1524.5" x2="86.0" y2="1524.5" stroke="#ff0" stroke-width="1" shape-rendering="crispEdges"/>
<line x1="2346.0" y1="1524.5" x2="2348.0" y2="1524.5" stroke="#ff0" stroke-width="1" shape-rendering="crispEdges"/>
<line x1="84.0" y1="1556.5" x2="86.0" y2="1556.5" stroke="#ff0" stroke-width="1" shape-rendering="crispEdges"/>
<line x1="2346.0" y1="1556.5" x2="2348.0" y2="1556.5" stroke="#ff0" stroke-width="1" shape-rendering="crispEdges"/>
<line x1="84.0" y1="1588.5" x2="86.0" y2="1588.5" stroke="#ff0" stroke-width="1" shape-rendering="crispEdges"/>
<line x1="2346.0" y1="1588.5" x2="2348.0" y2="1588.5" stroke="#ff0" stroke-width="1" shape-rendering="crispEdges"/>
<line x1="84.0" y1="1620.5" x2="86.0" y2="1620.5" stroke="#ff0" stroke-width="1" shape-rendering="crispEdges"/>
<line x1="2346.0" y1="1620.5" x2="2348.0" y2="1620.5" stroke="#ff0" stroke-width="1" shape-rendering="crispEdges"/>
<line x1="84.0" y1="1651.5" x2="86.0" y2="1651.5" stroke="#ff0" stroke-width="1" shape-rendering="crispEdges"/>
<line x1="2346.0" y1="1651.5" x2="2348.0" y2="1651.5" stroke="#ff0" stroke-width="1" shape-rendering="crispEdges"/>
<line x1="84.0" y1="1683.5" x2="86.0" y2="1683.5" stroke="#ff0" stroke-width="1" shape-rendering="crispEdges"/>
<line x1="2346.0" y1="1683.5" x2="2348.0" y2="1683.5" stroke="#ff0" stroke-width="1" shape-rendering="crispEdges"/>
<line x1="84.0" y1="1715.5" x2="86.0" y2="1715.5" stroke="#ff0" stroke-width="1" shape-rendering="crispEdges"/>
<line x1="2346.0" y1="1715.5" x2="2348.0" y2="1715.5" stroke="#ff0" stroke-width="1" shape-rendering="crispEdges"/>
<line x1="84.0" y1="1746.5" x2="86.0" y2="1746.5" stroke="#ff0" stroke-width="1" shape-rendering="crispEdges"/>
<line x1="2346.0" y1="1746.5" x2="2348.0" y2="1746.5" stroke="#ff0" stroke-width="1" shape-rendering="crispEdges"/>
<line x1="84.0" y1="1778.5" x2="86.0" y2="1778.5" stroke="#ff0" stroke-width="1" shape-rendering="crispEdges"/>
<line x1="2346.0" y1="1778.5" x2="2348.0" y2="1778.5" stroke="#ff0" stroke-width="1" shape-rendering="crispEdges"/>
</g>
<text class="t" x="91.4" y="967.5" textLength="271.2">EW-Croc Longsignale Abstandstest 3</text>
<text class="t" x="382.5" y="967.5" textLength="274.2">EW-Croc Shortsignale Abstandstest 3</text>
<text class="t" x="676.7" y="967.5" textLength="201.1">ICE Bear/Bull 1 Punkt/Kreis</text>
<text class="w" x="896" y="967.5" textLength="42">$SPX</text>
<rect x="947.5" y="954.5" width="18.0" height="17" rx="2" ry="2" fill="#000" stroke="#fff" stroke-width="1"/>
<polygon points="953.0,961.5 960.0,961.5 956.5,965.5" fill="#fff"/>
<rect x="975.5" y="954.5" width="22.0" height="17" rx="2" ry="2" fill="#000" stroke="#fff" stroke-width="1"/>
<polygon points="987.5,961.5 994.5,961.5 991.0,965.5" fill="#fff"/>
<text class="w" x="979" y="967.5">I</text>
<text class="w" x="1007.4" y="967.5" textLength="108.6">S&amp;P 500 Index</text>
<text class="w" x="1126" y="967.5" textLength="42.6">1 Day</text>
<rect x="1178.5" y="954.5" width="18.0" height="17" rx="2" ry="2" fill="#000" stroke="#fff" stroke-width="1"/>
<polygon points="1184.0,961.5 1191.0,961.5 1187.5,965.5" fill="#fff"/>
<rect x="1206.5" y="954.5" width="27.0" height="17" rx="2" ry="2" fill="#f00" stroke="#f6b0b0" stroke-width="1"/>
<polygon points="1224.0,961.5 1231.0,961.5 1227.5,965.5" fill="#600000"/>
<text x="1210" y="967.5" fill="#600000">R</text>
<g shape-rendering="crispEdges">
<rect x="91" y="1700" width="1" height="39" fill="#fff"/>
<rect x="89" y="1716" width="5" height="21" fill="#f00"/>
<rect x="99" y="1742" width="1" height="22" fill="#fff"/>
<rect x="97" y="1742" width="5" height="14" fill="#f00"/>
<rect x="107" y="1701" width="1" height="40" fill="#fff"/>
<rect x="105" y="1708" width="5" height="33" fill="#0f0"/>
<rect x="115" y="1704" width="1" height="12" fill="#fff"/>
<rect x="113" y="1706" width="5" height="2" fill="#0f0"/>
<rect x="123" y="1711" width="1" height="10" fill="#fff"/>
<rect x="121" y="1715" width="5" height="4" fill="#f00"/>
<rect x="131" y="1696" width="1" height="36" fill="#fff"/>
<rect x="129" y="1703" width="5" height="5" fill="#f00"/>
<rect x="139" y="1710" width="1" height="16" fill="#fff"/>
<rect x="137" y="1710" width="5" height="2" fill="#f00"/>
<rect x="147" y="1703" width="1" height="29" fill="#fff"/>
<rect x="145" y="1706" width="5" height="10" fill="#f00"/>
<rect x="155" y="1704" width="1" height="21" fill="#fff"/>
<rect x="153" y="1708" width="5" height="7" fill="#0f0"/>
<rect x="163" y="1708" width="1" height="17" fill="#fff"/>
<rect x="161" y="1713" width="5" height="12" fill="#f00"/>
<rect x="171" y="1690" width="1" height="33" fill="#fff"/>
<rect x="169" y="1693" width="5" height="24" fill="#0f0"/>
<rect x="179" y="1666" width="1" height="32" fill="#fff"/>
<rect x="177" y="1668" width="5" height="27" fill="#0f0"/>
<rect x="187" y="1659" width="1" height="22" fill="#fff"/>
<rect x="185" y="1665" width="5" height="8" fill="#f00"/>
<rect x="195" y="1661" width="1" height="20" fill="#fff"/>
<rect x="193" y="1672" width="5" height="2" fill="#0f0"/>
<rect x="203" y="1676" width="1" height="29" fill="#fff"/>
<rect x="201" y="1682" width="5" height="21" fill="#f00"/>
<rect x="211" y="1710" width="1" height="19" fill="#fff"/>
<rect x="209" y="1710" width="5" height="12" fill="#f00"/>
<rect x="219" y="1689" width="1" height="24" fill="#fff"/>
<rect x="217" y="1695" width="5" height="4" fill="#f00"/>
<rect x="227" y="1659" width="1" height="37" fill="#fff"/>
<rect x="225" y="1664" width="5" height="32" fill="#0f0"/>
<rect x="235" y="1647" width="1" height="26" fill="#fff"/>
<rect x="233" y="1650" width="5" height="15" fill="#f00"/>
<rect x="243" y="1670" width="1" height="20" fill="#fff"/>
<rect x="241" y="1673" width="5" height="8" fill="#f00"/>
<rect x="251" y="1647" width="1" height="39" fill="#fff"/>
<rect x="249" y="1654" width="5" height="25" fill="#0f0"/>
<rect x="259" y="1610" width="1" height="32" fill="#fff"/>
<rect x="257" y="1615" width="5" height="27" fill="#0f0"/>
<rect x="267" y="1604" width="1" height="22" fill="#fff"/>
<rect x="265" y="1614" width="5" height="7" fill="#f00"/>
<rect x="275" y="1611" width="1" height="17" fill="#fff"/>
<rect x="273" y="1614" width="5" height="9" fill="#0f0"/>
<rect x="283" y="1604" width="1" height="24" fill="#fff"/>
<rect x="281" y="1613" width="5" height="12" fill="#f00"/>
<rect x="291" y="1605" width="1" height="24" fill="#fff"/>
<rect x="289" y="1608" width="5" height="17" fill="#0f0"/>
<rect x="299" y="1589" width="1" height="21" fill="#fff"/>
<rect x="297" y="1601" width="5" height="4" fill="#f00"/>
<rect x="307" y="1578" width="1" height="24" fill="#fff"/>
<rect x="305" y="1579" width="5" height="20" fill="#0f0"/>
<rect x="315" y="1556" width="1" height="17" fill="#fff"/>
<rect x="313" y="1560" width="5" height="11" fill="#0f0"/>
<rect x="323" y="1545" width="1" height="36" fill="#fff"/>
<rect x="321" y="1558" width="5" height="5" fill="#0f0"/>
<rect x="331" y="1515" width="1" height="50" fill="#fff"/>
<rect x="329" y="1524" width="5" height="39" fill="#0f0"/>
<rect x="339" y="1509" width="1" height="27" fill="#fff"/>
<rect x="337" y="1514" width="5" height="21" fill="#f00"/>
<rect x="347" y="1540" width="1" height="22" fill="#fff"/>
<rect x="345" y="1543" width="5" height="5" fill="#f00"/>
<rect x="355" y="1549" width="1" height="18" fill="#fff"/>
<rect x="353" y="1553" width="5" height="10" fill="#f00"/>
<rect x="363" y="1551" width="1" height="21" fill="#fff"/>
<rect x="361" y="1552" width="5" height="18" fill="#0f0"/>
<rect x="371" y="1561" width="1" height="17" fill="#fff"/>
<rect x="369" y="1569" width="5" height="5" fill="#f00"/>
<rect x="379" y="1564" width="1" height="23" fill="#fff"/>
<rect x="377" y="1575" width="5" height="11" fill="#f00"/>
<rect x="387" y="1550" width="1" height="32" fill="#fff"/>
<rect x="385" y="1554" width="5" height="27" fill="#0f0"/>
<rect x="395" y="1546" width="1" height="20" fill="#fff"/>
<rect x="393" y="1555" width="5" height="7" fill="#0f0"/>
<rect x="403" y="1541" width="1" height="18" fill="#fff"/>
<rect x="401" y="1542" width="5" height="15" fill="#0f0"/>
<rect x="411" y="1503" width="1" height="24" fill="#fff"/>
<rect x="409" y="1508" width="5" height="19" fill="#0f0"/>
<rect x="419" y="1504" width="1" height="10" fill="#fff"/>
<rect x="417" y="1505" width="5" height="4" fill="#0f0"/>
<rect x="427" y="1506" width="1" height="12" fill="#fff"/>
<rect x="425" y="1510" width="5" height="5" fill="#0f0"/>
<rect x="435" y="1526" width="1" height="25" fill="#fff"/>
<rect x="433" y="1526" width="5" height="8" fill="#f00"/>
<rect x="443" y="1515" width="1" height="28" fill="#fff"/>
<rect x="441" y="1537" width="5" height="5" fill="#f00"/>
<rect x="451" y="1532" width="1" height="16" fill="#fff"/>
<rect x="449" y="1534" width="5" height="11" fill="#0f0"/>
<rect x="459" y="1513" width="1" height="23" fill="#fff"/>
<rect x="457" y="1515" width="5" height="16" fill="#0f0"/>
<rect x="467" y="1484" width="1" height="17" fill="#fff"/>
<rect x="465" y="1494" width="5" height="4" fill="#0f0"/>
<rect x="475" y="1466" width="1" height="18" fill="#fff"/>
<rect x="473" y="1470" width="5" height="13" fill="#0f0"/>
<rect x="483" y="1459" width="1" height="19" fill="#fff"/>
<rect x="481" y="1467" width="5" height="7" fill="#f00"/>
<rect x="491" y="1456" width="1" height="19" fill="#fff"/>
<rect x="489" y="1462" width="5" height="10" fill="#0f0"/>
<rect x="499" y="1437" width="1" height="31" fill="#fff"/>
<rect x="497" y="1442" width="5" height="22" fill="#0f0"/>
<rect x="507" y="1427" width="1" height="14" fill="#fff"/>
<rect x="505" y="1435" width="5" height="2" fill="#0f0"/>
<rect x="515" y="1436" width="1" height="24" fill="#fff"/>
<rect x="513" y="1442" width="5" height="14" fill="#f00"/>
<rect x="523" y="1442" width="1" height="13" fill="#fff"/>
<rect x="521" y="1445" width="5" height="10" fill="#f00"/>
<rect x="531" y="1436" width="1" height="16" fill="#fff"/>
<rect x="529" y="1442" width="5" height="8" fill="#0f0"/>
<rect x="539" y="1426" width="1" height="18" fill="#fff"/>
<rect x="537" y="1434" width="5" height="9" fill="#0f0"/>
<rect x="547" y="1424" width="1" height="24" fill="#fff"/>
<rect x="545" y="1434" width="5" height="6" fill="#0f0"/>
<rect x="555" y="1409" width="1" height="51" fill="#fff"/>
<rect x="553" y="1414" width="5" height="40" fill="#f00"/>
<rect x="563" y="1420" width="1" height="17" fill="#fff"/>
<rect x="561" y="1425" width="5" height="11" fill="#0f0"/>
<rect x="571" y="1417" width="1" height="14" fill="#fff"/>
<rect x="569" y="1420" width="5" height="4" fill="#0f0"/>
<rect x="579" y="1423" width="1" height="12" fill="#fff"/>
<rect x="577" y="1427" width="5" height="2" fill="#f00"/>
<rect x="587" y="1444" width="1" height="30" fill="#fff"/>
<rect x="585" y="1444" width="5" height="25" fill="#f00"/>
<rect x="595" y="1464" width="1" height="23" fill="#fff"/>
<rect x="593" y="1476" width="5" height="5" fill="#0f0"/>
<rect x="603" y="1451" width="1" height="43" fill="#fff"/>
<rect x="601" y="1468" width="5" height="24" fill="#f00"/>
<rect x="611" y="1464" width="1" height="19" fill="#fff"/>
<rect x="609" y="1465" width="5" height="18" fill="#0f0"/>
<rect x="619" y="1475" width="1" height="25" fill="#fff"/>
<rect x="617" y="1477" width="5" height="2" fill="#0f0"/>
<rect x="627" y="1475" width="1" height="27" fill="#fff"/>
<rect x="625" y="1476" width="5" height="22" fill="#f00"/>
<rect x="635" y="1459" width="1" height="45" fill="#fff"/>
<rect x="633" y="1485" width="5" height="13" fill="#f00"/>
<rect x="643" y="1492" width="1" height="21" fill="#fff"/>
<rect x="641" y="1500" width="5" height="9" fill="#0f0"/>
<rect x="651" y="1483" width="1" height="24" fill="#fff"/>
<rect x="649" y="1483" width="5" height="21" fill="#0f0"/>
<rect x="659" y="1490" width="1" height="31" fill="#fff"/>
<rect x="657" y="1490" width="5" height="27" fill="#f00"/>
<rect x="667" y="1509" width="1" height="30" fill="#fff"/>
<rect x="665" y="1519" width="5" height="19" fill="#f00"/>
<rect x="675" y="1527" width="1" height="37" fill="#fff"/>
<rect x="673" y="1530" width="5" height="30" fill="#f00"/>
<rect x="683" y="1552" width="1" height="30" fill="#fff"/>
<rect x="681" y="1559" width="5" height="17" fill="#0f0"/>
<rect x="691" y="1535" width="1" height="31" fill="#fff"/>
<rect x="689" y="1540" width="5" height="14" fill="#0f0"/>
<rect x="699" y="1528" width="1" height="24" fill="#fff"/>
<rect x="697" y="1530" width="5" height="19" fill="#f00"/>
<rect x="707" y="1513" width="1" height="30" fill="#fff"/>
<rect x="705" y="1517" width="5" height="26" fill="#0f0"/>
<rect x="715" y="1503" width="1" height="54" fill="#fff"/>
<rect x="713" y="1505" width="5" height="51" fill="#f00"/>
<rect x="723" y="1528" width="1" height="41" fill="#fff"/>
<rect x="721" y="1537" width="5" height="11" fill="#0f0"/>
<rect x="731" y="1515" width="1" height="17" fill="#fff"/>
<rect x="729" y="1519" width="5" height="6" fill="#0f0"/>
<rect x="739" y="1477" width="1" height="44" fill="#fff"/>
<rect x="737" y="1478" width="5" height="42" fill="#0f0"/>
<rect x="747" y="1463" width="1" height="19" fill="#fff"/>
<rect x="745" y="1467" width="5" height="11" fill="#0f0"/>
<rect x="755" y="1455" width="1" height="18" fill="#fff"/>
<rect x="753" y="1466" width="5" height="7" fill="#f00"/>
<rect x="763" y="1451" width="1" height="26" fill="#fff"/>
<rect x="761" y="1457" width="5" height="11" fill="#f00"/>
<rect x="771" y="1468" width="1" height="12" fill="#fff"/>
<rect x="769" y="1470" width="5" height="10" fill="#f00"/>
<rect x="779" y="1483" width="1" height="31" fill="#fff"/>
<rect x="777" y="1483" width="5" height="17" fill="#f00"/>
<rect x="787" y="1504" width="1" height="18" fill="#fff"/>
<rect x="785" y="1508" width="5" height="11" fill="#0f0"/>
<rect x="795" y="1494" width="1" height="17" fill="#fff"/>
<rect x="793" y="1504" width="5" height="5" fill="#0f0"/>
<rect x="803" y="1483" width="1" height="15" fill="#fff"/>
<rect x="801" y="1485" width="5" height="5" fill="#0f0"/>
<rect x="811" y="1485" width="1" height="20" fill="#fff"/>
<rect x="809" y="1494" width="5" height="8" fill="#f00"/>
<rect x="819" y="1490" width="1" height="17" fill="#fff"/>
<rect x="817" y="1497" width="5" height="4" fill="#0f0"/>
<rect x="827" y="1469" width="1" height="22" fill="#fff"/>
<rect x="825" y="1474" width="5" height="11" fill="#0f0"/>
<rect x="835" y="1478" width="1" height="33" fill="#fff"/>
<rect x="833" y="1478" width="5" height="31" fill="#f00"/>
<rect x="843" y="1498" width="1" height="16" fill="#fff"/>
<rect x="841" y="1506" width="5" height="7" fill="#0f0"/>
<rect x="851" y="1509" width="1" height="22" fill="#fff"/>
<rect x="849" y="1511" width="5" height="2" fill="#f00"/>
<rect x="859" y="1501" width="1" height="39" fill="#fff"/>
<rect x="857" y="1507" width="5" height="33" fill="#f00"/>
<rect x="867" y="1556" width="1" height="30" fill="#fff"/>
<rect x="865" y="1556" width="5" height="30" fill="#f00"/>
<rect x="875" y="1567" width="1" height="27" fill="#fff"/>
<rect x="873" y="1577" width="5" height="15" fill="#f00"/>
<rect x="883" y="1579" width="1" height="24" fill="#fff"/>
<rect x="881" y="1580" width="5" height="18" fill="#0f0"/>
<rect x="891" y="1595" width="1" height="31" fill="#fff"/>
<rect x="889" y="1595" width="5" height="26" fill="#f00"/>
<rect x="899" y="1609" width="1" height="35" fill="#fff"/>
<rect x="897" y="1615" width="5" height="6" fill="#f00"/>
<rect x="907" y="1593" width="1" height="34" fill="#fff"/>
<rect x="905" y="1604" width="5" height="20" fill="#0f0"/>
<rect x="915" y="1583" width="1" height="38" fill="#fff"/>
<rect x="913" y="1586" width="5" height="26" fill="#f00"/>
<rect x="923" y="1603" width="1" height="27" fill="#fff"/>
<rect x="921" y="1611" width="5" height="3" fill="#0f0"/>
<rect x="931" y="1616" width="1" height="42" fill="#fff"/>
<rect x="929" y="1623" width="5" height="26" fill="#f00"/>
<rect x="939" y="1624" width="1" height="31" fill="#fff"/>
<rect x="937" y="1627" width="5" height="20" fill="#0f0"/>
<rect x="947" y="1625" width="1" height="27" fill="#fff"/>
<rect x="945" y="1629" width="5" height="2" fill="#f00"/>
<rect x="955" y="1588" width="1" height="68" fill="#fff"/>
<rect x="953" y="1598" width="5" height="48" fill="#0f0"/>
<rect x="963" y="1577" width="1" height="38" fill="#fff"/>
<rect x="961" y="1581" width="5" height="31" fill="#0f0"/>
<rect x="971" y="1549" width="1" height="31" fill="#fff"/>
<rect x="969" y="1567" width="5" height="12" fill="#0f0"/>
<rect x="979" y="1554" width="1" height="22" fill="#fff"/>
<rect x="977" y="1555" width="5" height="7" fill="#0f0"/>
<rect x="987" y="1549" width="1" height="40" fill="#fff"/>
<rect x="985" y="1552" width="5" height="21" fill="#f00"/>
<rect x="995" y="1555" width="1" height="42" fill="#fff"/>
<rect x="993" y="1565" width="5" height="22" fill="#f00"/>
<rect x="1003" y="1551" width="1" height="27" fill="#fff"/>
<rect x="1001" y="1557" width="5" height="21" fill="#0f0"/>
<rect x="1011" y="1544" width="1" height="37" fill="#fff"/>
<rect x="1009" y="1557" width="5" height="19" fill="#0f0"/>
<rect x="1019" y="1563" width="1" height="39" fill="#fff"/>
<rect x="1017" y="1567" width="5" height="28" fill="#f00"/>
<rect x="1027" y="1579" width="1" height="45" fill="#fff"/>
<rect x="1025" y="1590" width="5" height="29" fill="#f00"/>
<rect x="1035" y="1619" width="1" height="35" fill="#fff"/>
<rect x="1033" y="1620" width="5" height="33" fill="#f00"/>
<rect x="1043" y="1632" width="1" height="43" fill="#fff"/>
<rect x="1041" y="1656" width="5" height="6" fill="#0f0"/>
<rect x="1051" y="1629" width="1" height="27" fill="#fff"/>
<rect x="1049" y="1637" width="5" height="8" fill="#0f0"/>
<rect x="1059" y="1647" width="1" height="33" fill="#fff"/>
<rect x="1057" y="1647" width="5" height="30" fill="#f00"/>
<rect x="1067" y="1678" width="1" height="36" fill="#fff"/>
<rect x="1065" y="1682" width="5" height="26" fill="#f00"/>
<rect x="1075" y="1695" width="1" height="34" fill="#fff"/>
<rect x="1073" y="1697" width="5" height="24" fill="#f00"/>
<rect x="1083" y="1681" width="1" height="30" fill="#fff"/>
<rect x="1081" y="1688" width="5" height="19" fill="#0f0"/>
<rect x="1099" y="1670" width="1" height="28" fill="#fff"/>
<rect x="1097" y="1671" width="5" height="15" fill="#0f0"/>
<rect x="1115" y="1638" width="1" height="32" fill="#fff"/>
<rect x="1113" y="1643" width="5" height="24" fill="#0f0"/>
<rect x="1131" y="1591" width="1" height="34" fill="#fff"/>
<rect x="1129" y="1592" width="5" height="33" fill="#0f0"/>
<rect x="1147" y="1557" width="1" height="26" fill="#fff"/>
<rect x="1145" y="1567" width="5" height="16" fill="#0f0"/>
<rect x="1163" y="1558" width="1" height="17" fill="#fff"/>
<rect x="1161" y="1562" width="5" height="2" fill="#0f0"/>
<rect x="1171" y="1549" width="1" height="21" fill="#fff"/>
<rect x="1169" y="1554" width="5" height="9" fill="#0f0"/>
<rect x="1179" y="1546" width="1" height="21" fill="#fff"/>
<rect x="1177" y="1550" width="5" height="2" fill="#f00"/>
<rect x="1187" y="1544" width="1" height="33" fill="#fff"/>
<rect x="1185" y="1546" width="5" height="29" fill="#f00"/>
<rect x="1195" y="1529" width="1" height="42" fill="#fff"/>
<rect x="1193" y="1531" width="5" height="33" fill="#0f0"/>
<rect x="1203" y="1526" width="1" height="19" fill="#fff"/>
<rect x="1201" y="1533" width="5" height="4" fill="#0f0"/>
<rect x="1211" y="1471" width="1" height="33" fill="#fff"/>
<rect x="1209" y="1479" width="5" height="25" fill="#0f0"/>
<rect x="1219" y="1463" width="1" height="18" fill="#fff"/>
<rect x="1217" y="1473" width="5" height="3" fill="#f00"/>
<rect x="1227" y="1469" width="1" height="16" fill="#fff"/>
<rect x="1225" y="1472" width="5" height="8" fill="#0f0"/>
<rect x="1235" y="1464" width="1" height="14" fill="#fff"/>
<rect x="1233" y="1468" width="5" height="4" fill="#0f0"/>
<rect x="1243" y="1440" width="1" height="31" fill="#fff"/>
<rect x="1241" y="1447" width="5" height="23" fill="#0f0"/>
<rect x="1251" y="1450" width="1" height="12" fill="#fff"/>
<rect x="1249" y="1452" width="5" height="2" fill="#f00"/>
<rect x="1259" y="1433" width="1" height="16" fill="#fff"/>
<rect x="1257" y="1441" width="5" height="3" fill="#0f0"/>
<rect x="1267" y="1438" width="1" height="6" fill="#fff"/>
<rect x="1265" y="1439" width="5" height="3" fill="#0f0"/>
<rect x="1275" y="1438" width="1" height="10" fill="#fff"/>
<rect x="1273" y="1442" width="5" height="4" fill="#f00"/>
<rect x="1283" y="1433" width="1" height="19" fill="#fff"/>
<rect x="1281" y="1442" width="5" height="7" fill="#0f0"/>
<rect x="1291" y="1421" width="1" height="27" fill="#fff"/>
<rect x="1289" y="1431" width="5" height="15" fill="#f00"/>
<rect x="1299" y="1432" width="1" height="22" fill="#fff"/>
<rect x="1297" y="1434" width="5" height="9" fill="#0f0"/>
<rect x="1307" y="1414" width="1" height="29" fill="#fff"/>
<rect x="1305" y="1417" width="5" height="23" fill="#0f0"/>
<rect x="1315" y="1431" width="1" height="17" fill="#fff"/>
<rect x="1313" y="1432" width="5" height="5" fill="#0f0"/>
<rect x="1323" y="1427" width="1" height="18" fill="#fff"/>
<rect x="1321" y="1434" width="5" height="7" fill="#0f0"/>
<rect x="1331" y="1419" width="1" height="29" fill="#fff"/>
<rect x="1329" y="1422" width="5" height="24" fill="#f00"/>
<rect x="1339" y="1419" width="1" height="17" fill="#fff"/>
<rect x="1337" y="1422" width="5" height="12" fill="#0f0"/>
<rect x="1347" y="1407" width="1" height="24" fill="#fff"/>
<rect x="1345" y="1411" width="5" height="18" fill="#0f0"/>
<rect x="1355" y="1398" width="1" height="20" fill="#fff"/>
<rect x="1353" y="1399" width="5" height="19" fill="#0f0"/>
<rect x="1363" y="1385" width="1" height="24" fill="#fff"/>
<rect x="1361" y="1386" width="5" height="17" fill="#0f0"/>
<rect x="1371" y="1344" width="1" height="43" fill="#fff"/>
<rect x="1369" y="1345" width="5" height="40" fill="#0f0"/>
<rect x="1379" y="1325" width="1" height="29" fill="#fff"/>
<rect x="1377" y="1336" width="5" height="2" fill="#f00"/>
<rect x="1387" y="1334" width="1" height="14" fill="#fff"/>
<rect x="1385" y="1338" width="5" height="4" fill="#0f0"/>
<rect x="1395" y="1318" width="1" height="17" fill="#fff"/>
<rect x="1393" y="1324" width="5" height="11" fill="#0f0"/>
<rect x="1403" y="1306" width="1" height="17" fill="#fff"/>
<rect x="1401" y="1306" width="5" height="17" fill="#0f0"/>
<rect x="1411" y="1300" width="1" height="52" fill="#fff"/>
<rect x="1409" y="1309" width="5" height="43" fill="#f00"/>
<rect x="1419" y="1319" width="1" height="27" fill="#fff"/>
<rect x="1417" y="1320" width="5" height="15" fill="#0f0"/>
<rect x="1427" y="1304" width="1" height="23" fill="#fff"/>
<rect x="1425" y="1315" width="5" height="2" fill="#0f0"/>
<rect x="1435" y="1296" width="1" height="18" fill="#fff"/>
<rect x="1433" y="1302" width="5" height="11" fill="#0f0"/>
<rect x="1443" y="1296" width="1" height="11" fill="#fff"/>
<rect x="1441" y="1298" width="5" height="6" fill="#0f0"/>
<rect x="1451" y="1291" width="1" height="8" fill="#fff"/>
<rect x="1449" y="1295" width="5" height="3" fill="#f00"/>
<rect x="1459" y="1294" width="1" height="24" fill="#fff"/>
<rect x="1457" y="1297" width="5" height="9" fill="#f00"/>
<rect x="1467" y="1315" width="1" height="21" fill="#fff"/>
<rect x="1465" y="1321" width="5" height="3" fill="#f00"/>
<rect x="1475" y="1331" width="1" height="20" fill="#fff"/>
<rect x="1473" y="1334" width="5" height="14" fill="#f00"/>
<rect x="1483" y="1333" width="1" height="26" fill="#fff"/>
<rect x="1481" y="1351" width="5" height="7" fill="#f00"/>
<rect x="1491" y="1336" width="1" height="26" fill="#fff"/>
<rect x="1489" y="1352" width="5" height="5" fill="#0f0"/>
<rect x="1499" y="1309" width="1" height="42" fill="#fff"/>
<rect x="1497" y="1309" width="5" height="39" fill="#0f0"/>
<rect x="1507" y="1308" width="1" height="24" fill="#fff"/>
<rect x="1505" y="1314" width="5" height="10" fill="#0f0"/>
<rect x="1515" y="1292" width="1" height="23" fill="#fff"/>
<rect x="1513" y="1297" width="5" height="16" fill="#0f0"/>
<rect x="1523" y="1287" width="1" height="39" fill="#fff"/>
<rect x="1521" y="1291" width="5" height="9" fill="#f00"/>
<rect x="1531" y="1285" width="1" height="22" fill="#fff"/>
<rect x="1529" y="1292" width="5" height="6" fill="#f00"/>
<rect x="1539" y="1298" width="1" height="23" fill="#fff"/>
<rect x="1537" y="1304" width="5" height="5" fill="#f00"/>
<rect x="1547" y="1322" width="1" height="19" fill="#fff"/>
<rect x="1545" y="1325" width="5" height="1" fill="#0f0"/>
<rect x="1555" y="1295" width="1" height="30" fill="#fff"/>
<rect x="1553" y="1298" width="5" height="15" fill="#0f0"/>
<rect x="1563" y="1260" width="1" height="36" fill="#fff"/>
<rect x="1561" y="1261" width="5" height="29" fill="#0f0"/>
<rect x="1571" y="1243" width="1" height="16" fill="#fff"/>
<rect x="1569" y="1252" width="5" height="3" fill="#f00"/>
<rect x="1579" y="1244" width="1" height="15" fill="#fff"/>
<rect x="1577" y="1245" width="5" height="6" fill="#0f0"/>
<rect x="1587" y="1221" width="1" height="24" fill="#fff"/>
<rect x="1585" y="1230" width="5" height="14" fill="#f00"/>
<rect x="1595" y="1224" width="1" height="19" fill="#fff"/>
<rect x="1593" y="1227" width="5" height="5" fill="#0f0"/>
<rect x="1603" y="1219" width="1" height="17" fill="#fff"/>
<rect x="1601" y="1229" width="5" height="2" fill="#0f0"/>
<rect x="1611" y="1204" width="1" height="28" fill="#fff"/>
<rect x="1609" y="1205" width="5" height="23" fill="#0f0"/>
<rect x="1619" y="1203" width="1" height="11" fill="#fff"/>
<rect x="1617" y="1206" width="5" height="2" fill="#f00"/>
<rect x="1627" y="1219" width="1" height="40" fill="#fff"/>
<rect x="1625" y="1223" width="5" height="35" fill="#f00"/>
<rect x="1635" y="1218" width="1" height="35" fill="#fff"/>
<rect x="1633" y="1219" width="5" height="30" fill="#0f0"/>
<rect x="1643" y="1175" width="1" height="44" fill="#fff"/>
<rect x="1641" y="1186" width="5" height="28" fill="#0f0"/>
<rect x="1651" y="1187" width="1" height="25" fill="#fff"/>
<rect x="1649" y="1187" width="5" height="10" fill="#f00"/>
<rect x="1659" y="1186" width="1" height="16" fill="#fff"/>
<rect x="1657" y="1188" width="5" height="4" fill="#0f0"/>
<rect x="1667" y="1159" width="1" height="21" fill="#fff"/>
<rect x="1665" y="1163" width="5" height="15" fill="#0f0"/>
<rect x="1675" y="1159" width="1" height="10" fill="#fff"/>
<rect x="1673" y="1161" width="5" height="2" fill="#0f0"/>
<rect x="1683" y="1140" width="1" height="20" fill="#fff"/>
<rect x="1681" y="1143" width="5" height="15" fill="#0f0"/>
<rect x="1691" y="1129" width="1" height="21" fill="#fff"/>
<rect x="1689" y="1142" width="5" height="5" fill="#f00"/>
<rect x="1699" y="1178" width="1" height="33" fill="#fff"/>
<rect x="1697" y="1180" width="5" height="10" fill="#f00"/>
<rect x="1707" y="1158" width="1" height="30" fill="#fff"/>
<rect x="1705" y="1159" width="5" height="16" fill="#0f0"/>
<rect x="1715" y="1139" width="1" height="22" fill="#fff"/>
<rect x="1713" y="1141" width="5" height="17" fill="#0f0"/>
<rect x="1723" y="1135" width="1" height="26" fill="#fff"/>
<rect x="1721" y="1140" width="5" height="17" fill="#f00"/>
<rect x="1731" y="1163" width="1" height="26" fill="#fff"/>
<rect x="1729" y="1166" width="5" height="10" fill="#f00"/>
<rect x="1739" y="1170" width="1" height="25" fill="#fff"/>
<rect x="1737" y="1171" width="5" height="13" fill="#0f0"/>
<rect x="1747" y="1100" width="1" height="36" fill="#fff"/>
<rect x="1745" y="1104" width="5" height="32" fill="#0f0"/>
<rect x="1755" y="1089" width="1" height="20" fill="#fff"/>
<rect x="1753" y="1095" width="5" height="9" fill="#f00"/>
<rect x="1763" y="1097" width="1" height="20" fill="#fff"/>
<rect x="1761" y="1100" width="5" height="16" fill="#f00"/>
<rect x="1771" y="1108" width="1" height="16" fill="#fff"/>
<rect x="1769" y="1110" width="5" height="3" fill="#0f0"/>
<rect x="1779" y="1110" width="1" height="13" fill="#fff"/>
<rect x="1777" y="1115" width="5" height="3" fill="#0f0"/>
<rect x="1787" y="1093" width="1" height="28" fill="#fff"/>
<rect x="1785" y="1098" width="5" height="8" fill="#0f0"/>
<rect x="1795" y="1070" width="1" height="31" fill="#fff"/>
<rect x="1793" y="1072" width="5" height="26" fill="#0f0"/>
<rect x="1803" y="1064" width="1" height="16" fill="#fff"/>
<rect x="1801" y="1076" width="5" height="1" fill="#f00"/>
<rect x="1811" y="1087" width="1" height="37" fill="#fff"/>
<rect x="1809" y="1089" width="5" height="21" fill="#f00"/>
<rect x="1819" y="1078" width="1" height="24" fill="#fff"/>
<rect x="1817" y="1091" width="5" height="3" fill="#f00"/>
<rect x="1827" y="1054" width="1" height="25" fill="#fff"/>
<rect x="1825" y="1060" width="5" height="16" fill="#0f0"/>
<rect x="1835" y="1039" width="1" height="47" fill="#fff"/>
<rect x="1833" y="1055" width="5" height="27" fill="#f00"/>
<rect x="1843" y="1080" width="1" height="23" fill="#fff"/>
<rect x="1841" y="1085" width="5" height="4" fill="#0f0"/>
<rect x="1859" y="1045" width="1" height="43" fill="#fff"/>
<rect x="1857" y="1048" width="5" height="27" fill="#0f0"/>
<rect x="1875" y="1046" width="1" height="18" fill="#fff"/>
<rect x="1873" y="1049" width="5" height="6" fill="#f00"/>
<rect x="1891" y="1047" width="1" height="35" fill="#fff"/>
<rect x="1889" y="1048" width="5" height="17" fill="#f00"/>
<rect x="1907" y="1073" width="1" height="21" fill="#fff"/>
<rect x="1905" y="1081" width="5" height="5" fill="#f00"/>
<rect x="1923" y="1048" width="1" height="20" fill="#fff"/>
<rect x="1921" y="1061" width="5" height="5" fill="#f00"/>
<rect x="1939" y="1045" width="1" height="32" fill="#fff"/>
<rect x="1937" y="1046" width="5" height="26" fill="#0f0"/>
<rect x="1955" y="1016" width="1" height="36" fill="#fff"/>
<rect x="1953" y="1017" width="5" height="28" fill="#0f0"/>
<rect x="1971" y="994" width="1" height="14" fill="#fff"/>
<rect x="1969" y="999" width="5" height="8" fill="#f00"/>
<rect x="1987" y="1003" width="1" height="12" fill="#fff"/>
<rect x="1985" y="1006" width="5" height="6" fill="#f00"/>
<rect x="2003" y="1014" width="1" height="9" fill="#fff"/>
<rect x="2001" y="1020" width="5" height="2" fill="#f00"/>
<rect x="2019" y="1010" width="1" height="21" fill="#fff"/>
<rect x="2017" y="1014" width="5" height="17" fill="#f00"/>
<rect x="2035" y="1001" width="1" height="24" fill="#fff"/>
<rect x="2033" y="1002" width="5" height="15" fill="#0f0"/>
<rect x="2051" y="991" width="1" height="13" fill="#fff"/>
<rect x="2049" y="998" width="5" height="5" fill="#0f0"/>
<rect x="2067" y="992" width="1" height="23" fill="#fff"/>
<rect x="2065" y="996" width="5" height="10" fill="#f00"/>
<rect x="2075" y="1027" width="1" height="17" fill="#fff"/>
<rect x="2073" y="1029" width="5" height="2" fill="#0f0"/>
<rect x="2083" y="1014" width="1" height="23" fill="#fff"/>
<rect x="2081" y="1025" width="5" height="12" fill="#0f0"/>
<rect x="2091" y="997" width="1" height="71" fill="#fff"/>
<rect x="2089" y="1005" width="5" height="62" fill="#f00"/>
<rect x="2099" y="1018" width="1" height="43" fill="#fff"/>
<rect x="2097" y="1030" width="5" height="30" fill="#0f0"/>
<rect x="2107" y="1020" width="1" height="15" fill="#fff"/>
<rect x="2105" y="1025" width="5" height="7" fill="#f00"/>
<rect x="2115" y="1017" width="1" height="41" fill="#fff"/>
<rect x="2113" y="1022" width="5" height="5" fill="#f00"/>
<rect x="2123" y="1046" width="1" height="26" fill="#fff"/>
<rect x="2121" y="1053" width="5" height="5" fill="#f00"/>
<rect x="2131" y="1025" width="1" height="47" fill="#fff"/>
<rect x="2129" y="1033" width="5" height="18" fill="#0f0"/>
<rect x="2139" y="1048" width="1" height="44" fill="#fff"/>
<rect x="2137" y="1051" width="5" height="31" fill="#f00"/>
<rect x="2147" y="1053" width="1" height="74" fill="#fff"/>
<rect x="2145" y="1064" width="5" height="57" fill="#f00"/>
<rect x="2155" y="1109" width="1" height="26" fill="#fff"/>
<rect x="2153" y="1118" width="5" height="10" fill="#f00"/>
<rect x="2163" y="1110" width="1" height="46" fill="#fff"/>
<rect x="2161" y="1116" width="5" height="30" fill="#f00"/>
<rect x="2171" y="1123" width="1" height="36" fill="#fff"/>
<rect x="2169" y="1139" width="5" height="14" fill="#f00"/>
<rect x="2179" y="1147" width="1" height="43" fill="#fff"/>
<rect x="2177" y="1156" width="5" height="25" fill="#f00"/>
<rect x="2187" y="1135" width="1" height="45" fill="#fff"/>
<rect x="2185" y="1153" width="5" height="15" fill="#0f0"/>
<rect x="2195" y="1111" width="1" height="32" fill="#fff"/>
<rect x="2193" y="1115" width="5" height="27" fill="#0f0"/>
<rect x="2203" y="1103" width="1" height="28" fill="#fff"/>
<rect x="2201" y="1106" width="5" height="9" fill="#f00"/>
<rect x="2211" y="1123" width="1" height="43" fill="#fff"/>
<rect x="2209" y="1129" width="5" height="19" fill="#0f0"/>
<rect x="2219" y="1087" width="1" height="27" fill="#fff"/>
<rect x="2217" y="1096" width="5" height="11" fill="#0f0"/>
<rect x="2227" y="1081" width="1" height="23" fill="#fff"/>
<rect x="2225" y="1086" width="5" height="2" fill="#0f0"/>
<rect x="2235" y="1089" width="1" height="49" fill="#fff"/>
<rect x="2233" y="1094" width="5" height="44" fill="#f00"/>
<rect x="2243" y="1098" width="1" height="54" fill="#fff"/>
<rect x="2241" y="1141" width="5" height="8" fill="#f00"/>
<rect x="2251" y="1113" width="1" height="40" fill="#fff"/>
<rect x="2249" y="1119" width="5" height="10" fill="#0f0"/>
<rect x="2259" y="1071" width="1" height="25" fill="#fff"/>
<rect x="2257" y="1078" width="5" height="4" fill="#0f0"/>
<rect x="2267" y="1045" width="1" height="25" fill="#fff"/>
<rect x="2265" y="1045" width="5" height="25" fill="#0f0"/>
<rect x="2275" y="1032" width="1" height="15" fill="#fff"/>
<rect x="2273" y="1040" width="5" height="2" fill="#0f0"/>
<rect x="2283" y="1038" width="1" height="17" fill="#fff"/>
<rect x="2281" y="1040" width="5" height="13" fill="#0f0"/>
<rect x="2291" y="1023" width="1" height="23" fill="#fff"/>
<rect x="2289" y="1024" width="5" height="16" fill="#0f0"/>
<rect x="2299" y="1007" width="1" height="20" fill="#fff"/>
<rect x="2297" y="1016" width="5" height="3" fill="#f00"/>
<rect x="2307" y="1009" width="1" height="17" fill="#fff"/>
<rect x="2305" y="1011" width="5" height="9" fill="#f00"/>
</g>
<circle cx="555.9" cy="1398.1" r="5.9" fill="#f4a460" />
<circle cx="1187.5" cy="1531.1" r="5.9" fill="#f4a460" />
<circle cx="1291.8" cy="1408.3" r="5.9" fill="#f4a460" />
<circle cx="1411.9" cy="1285.2" r="5.0" fill="#3cb07a" />
<circle cx="1411.9" cy="1287.9" r="5.9" fill="#f4a460" />
<circle cx="259.8" cy="1596.6" r="5.9" fill="#c8c8c8" />
<circle cx="635.8" cy="1522.5" r="5.9" fill="#0f0" />
<circle cx="683.9" cy="1594.6" r="5.9" fill="#c8c8c8" />
<circle cx="883.9" cy="1621.5" r="5.9" fill="#0f0" />
<circle cx="891.8" cy="1639.4" r="5.9" fill="#c8c8c8" />
<circle cx="907.9" cy="1640.3" r="5.0" fill="#d2b48c" stroke="#c8c8c8" stroke-width="1.6"/>
<circle cx="1083.9" cy="1726.4" r="5.0" fill="#d2b48c" stroke="#c8c8c8" stroke-width="1.6"/>
<circle cx="1371.9" cy="1329.5" r="5.9" fill="#c8c8c8" />
<circle cx="1491.8" cy="1379.4" r="5.9" fill="#0f0" />
<circle cx="1571.9" cy="1231.5" r="5.9" fill="#c8c8c8" />
<circle cx="1971.9" cy="980.4" r="5.9" fill="#c8c8c8" />
<circle cx="2179.8" cy="1205.4" r="5.9" fill="#c8c8c8" />
<circle cx="547.6" cy="1418.5" r="5.4" fill="#f00" />
<circle cx="555.9" cy="1402.2" r="5.9" fill="#f00" />
<circle cx="755.9" cy="1450.5" r="5.9" fill="#f00" />
<circle cx="1204.0" cy="1518.5" r="5.9" fill="#f00" />
<circle cx="1411.9" cy="1293.7" r="5.9" fill="#f00" />
<circle cx="1491.8" cy="1368.6" r="5.9" fill="#f00" />
<circle cx="204.0" cy="1658.5" r="4.0" fill="#3cb07a" />
<circle cx="348.0" cy="1524.5" r="4.0" fill="#3cb07a" />
<circle cx="435.6" cy="1510.7" r="4.0" fill="#00f" />
<g fill="#3cb07a" shape-rendering="crispEdges"><rect x="442.0" y="1547.0" width="3" height="9"/><rect x="439.0" y="1550.0" width="9" height="3"/><rect x="443.0" y="1546.0" width="1" height="11"/><rect x="438.0" y="1551.0" width="11" height="1"/></g>
<ellipse cx="483.9" cy="1453.4" rx="3.2" ry="2.6" fill="#fff"/>
<ellipse cx="507.8" cy="1421.6" rx="3.2" ry="2.6" fill="#fff"/>
<circle cx="515.9" cy="1421.6" r="4.0" fill="#3cb07a" />
<circle cx="547.9" cy="1411.1" r="4.0" fill="#00f" />
<g fill="#f00" shape-rendering="crispEdges"><rect x="666.0" y="1487.0" width="3" height="9"/><rect x="663.0" y="1490.0" width="9" height="3"/><rect x="667.0" y="1486.0" width="1" height="11"/><rect x="662.0" y="1491.0" width="11" height="1"/></g>
<ellipse cx="643.8" cy="1519.6" rx="3.2" ry="2.6" fill="#fff"/>
<circle cx="651.9" cy="1521.4" r="4.0" fill="#3cb07a" />
<circle cx="676.0" cy="1581.3" r="3.0" fill="#8c8c8c" />
<circle cx="683.9" cy="1588.9" r="3.2" fill="#fff" />
<g fill="#3cb07a" shape-rendering="crispEdges"><rect x="738.0" y="1525.0" width="3" height="9"/><rect x="735.0" y="1528.0" width="9" height="3"/><rect x="739.0" y="1524.0" width="1" height="11"/><rect x="734.0" y="1529.0" width="11" height="1"/></g>
<g fill="#f00" shape-rendering="crispEdges"><rect x="778.0" y="1461.0" width="3" height="9"/><rect x="775.0" y="1464.0" width="9" height="3"/><rect x="779.0" y="1460.0" width="1" height="11"/><rect x="774.0" y="1465.0" width="11" height="1"/></g>
<circle cx="875.9" cy="1613.4" r="3.0" fill="#8c8c8c" />
<ellipse cx="883.9" cy="1609.4" rx="3.2" ry="2.6" fill="#fff"/>
<ellipse cx="923.9" cy="1636.4" rx="3.2" ry="2.6" fill="#fff"/>
<ellipse cx="899.8" cy="1650.3" rx="3.2" ry="2.6" fill="#fff"/>
<circle cx="899.8" cy="1663.5" r="5.9" fill="#0f0" />
<ellipse cx="899.8" cy="1663.5" rx="3.0" ry="2.4" fill="#909090"/>
<circle cx="955.9" cy="1674.5" r="4.0" fill="#00f" />
<g fill="#f00" shape-rendering="crispEdges"><rect x="986.0" y="1525.0" width="3" height="9"/><rect x="983.0" y="1528.0" width="9" height="3"/><rect x="987.0" y="1524.0" width="1" height="11"/><rect x="982.0" y="1529.0" width="11" height="1"/></g>
<circle cx="1075.9" cy="1751.6" r="3.0" fill="#8c8c8c" />
<circle cx="1115.9" cy="1689.5" r="4.0" fill="#00f" />
<g fill="#3cb07a" shape-rendering="crispEdges"><rect x="1146.0" y="1590.0" width="3" height="9"/><rect x="1143.0" y="1593.0" width="9" height="3"/><rect x="1147.0" y="1589.0" width="1" height="11"/><rect x="1142.0" y="1594.0" width="11" height="1"/></g>
<circle cx="1187.5" cy="1536.5" r="5.6" fill="#f00" />
<ellipse cx="1187.5" cy="1536.5" rx="3.2" ry="2.2" fill="#fff"/>
<ellipse cx="1220.0" cy="1455.5" rx="3.2" ry="2.6" fill="#fff"/>
<ellipse cx="1260.0" cy="1425.5" rx="3.2" ry="2.6" fill="#fff"/>
<ellipse cx="1275.9" cy="1430.4" rx="3.2" ry="2.6" fill="#fff"/>
<circle cx="1291.8" cy="1413.8" r="5.6" fill="#f00" />
<ellipse cx="1291.8" cy="1413.8" rx="3.2" ry="2.2" fill="#fff"/>
<circle cx="1315.9" cy="1414.5" r="4.0" fill="#00f" />
<circle cx="1531.9" cy="1270.4" r="4.0" fill="#3cb07a" />
<ellipse cx="1531.9" cy="1279.4" rx="3.2" ry="2.6" fill="#fff"/>
<g fill="#3cb07a" shape-rendering="crispEdges"><rect x="1562.0" y="1300.0" width="3" height="9"/><rect x="1559.0" y="1303.0" width="9" height="3"/><rect x="1563.0" y="1299.0" width="1" height="11"/><rect x="1558.0" y="1304.0" width="11" height="1"/></g>
<circle cx="1571.9" cy="1237.5" r="3.2" fill="#fff" />
<ellipse cx="1587.8" cy="1214.5" rx="3.2" ry="2.6" fill="#fff"/>
<ellipse cx="1603.9" cy="1213.4" rx="3.2" ry="2.6" fill="#fff"/>
<circle cx="1627.8" cy="1205.4" r="4.0" fill="#00f" />
<g fill="#3cb07a" shape-rendering="crispEdges"><rect x="1642.0" y="1222.0" width="3" height="9"/><rect x="1639.0" y="1225.0" width="9" height="3"/><rect x="1643.0" y="1221.0" width="1" height="11"/><rect x="1638.0" y="1226.0" width="11" height="1"/></g>
<ellipse cx="1691.9" cy="1122.4" rx="3.2" ry="2.6" fill="#fff"/>
<ellipse cx="1756.0" cy="1082.6" rx="3.2" ry="2.6" fill="#fff"/>
<ellipse cx="1803.9" cy="1058.6" rx="3.2" ry="2.6" fill="#fff"/>
<ellipse cx="1923.9" cy="1041.7" rx="3.2" ry="2.6" fill="#fff"/>
<ellipse cx="1971.9" cy="987.5" rx="3.2" ry="2.6" fill="#fff"/>
<ellipse cx="2019.8" cy="1003.4" rx="3.2" ry="2.6" fill="#fff"/>
<circle cx="2308.0" cy="989.5" r="4.0" fill="#3cb07a" />
<ellipse cx="2300.0" cy="999.4" rx="3.2" ry="2.6" fill="#fff"/>
<circle cx="2148.0" cy="1148.6" r="3.0" fill="#8c8c8c" />
<circle cx="2195.9" cy="1161.3" r="4.0" fill="#3cb07a" />
<polygon points="6,1012 78,1012 85.5,1020 78,1028 6,1028" fill="#0f0"/>
<text x="77.5" y="1025.5" text-anchor="end" fill="#000">5.221,42</text>
<polygon points="2347,1020 2355,1012 2425.5,1012 2425.5,1028 2355,1028" fill="#0f0"/>
<text x="2356.5" y="1025.5" fill="#000">5.221,42</text>
<rect x="6.0" y="1807" width="81.0" height="1" fill="#e8e8e8"/>
<polygon points="7.0,1811 84.0,1811 82.0,1813 7.0,1813" fill="#f00"/>
<rect x="6.0" y="1810" width="81.0" height="1" fill="#e8e8e8"/>
<polygon points="7.0,1814 84.0,1814 82.0,1816 7.0,1816" fill="#f00"/>
<rect x="6.0" y="1813" width="81.0" height="1" fill="#e8e8e8"/>
<polygon points="7.0,1817 84.0,1817 82.0,1819 7.0,1819" fill="#0f0"/>
<rect x="6.0" y="1816" width="81.0" height="1" fill="#e8e8e8"/>
<polygon points="7.0,1820 84.0,1820 82.0,1822 7.0,1822" fill="#0f0"/>
<rect x="6.0" y="1819" width="81.0" height="1" fill="#e8e8e8"/>
<polygon points="7.0,1823 84.0,1823 82.0,1825 7.0,1825" fill="#0f0"/>
<rect x="6.0" y="1822" width="81.0" height="1" fill="#e8e8e8"/>
<polygon points="7.0,1826 84.0,1826 82.0,1828 7.0,1828" fill="#0f0"/>
<rect x="6.0" y="1825" width="81.0" height="1" fill="#e8e8e8"/>
<polygon points="7.0,1829 84.0,1829 82.0,1831 7.0,1831" fill="#0f0"/>
<rect x="6.0" y="1828" width="81.0" height="1" fill="#e8e8e8"/>
<polygon points="7.0,1832 84.0,1832 82.0,1834 7.0,1834" fill="#0f0"/>
<rect x="6.0" y="1831" width="81.0" height="1" fill="#e8e8e8"/>
<polygon points="7.0,1835 84.0,1835 82.0,1837 7.0,1837" fill="#0f0"/>
<rect x="6.0" y="1834" width="81.0" height="1" fill="#e8e8e8"/>
<polygon points="7.0,1838 84.0,1838 82.0,1840 7.0,1840" fill="#0f0"/>
<rect x="6.0" y="1837" width="81.0" height="1" fill="#e8e8e8"/>
<polygon points="7.0,1841 84.0,1841 82.0,1843 7.0,1843" fill="#0f0"/>
<rect x="6.0" y="1840" width="81.0" height="1" fill="#e8e8e8"/>
<rect x="6.0" y="1843" width="81.0" height="1" fill="#e8e8e8"/>
<rect x="6.0" y="1846" width="81.0" height="1" fill="#e8e8e8"/>
<rect x="6.0" y="1849" width="81.0" height="1" fill="#e8e8e8"/>
<rect x="2345.0" y="1807" width="81.0" height="1" fill="#e8e8e8"/>
<polygon points="2351.0,1811 2425.0,1811 2425.0,1813 2348.0,1813" fill="#f00"/>
<rect x="2345.0" y="1810" width="81.0" height="1" fill="#e8e8e8"/>
<polygon points="2351.0,1814 2425.0,1814 2425.0,1816 2348.0,1816" fill="#f00"/>
<rect x="2345.0" y="1813" width="81.0" height="1" fill="#e8e8e8"/>
<polygon points="2351.0,1817 2425.0,1817 2425.0,1819 2348.0,1819" fill="#0f0"/>
<rect x="2345.0" y="1816" width="81.0" height="1" fill="#e8e8e8"/>
<polygon points="2351.0,1820 2425.0,1820 2425.0,1822 2348.0,1822" fill="#0f0"/>
<rect x="2345.0" y="1819" width="81.0" height="1" fill="#e8e8e8"/>
<polygon points="2351.0,1823 2425.0,1823 2425.0,1825 2348.0,1825" fill="#0f0"/>
<rect x="2345.0" y="1822" width="81.0" height="1" fill="#e8e8e8"/>
<polygon points="2351.0,1826 2425.0,1826 2425.0,1828 2348.0,1828" fill="#0f0"/>
<rect x="2345.0" y="1825" width="81.0" height="1" fill="#e8e8e8"/>
<polygon points="2351.0,1829 2425.0,1829 2425.0,1831 2348.0,1831" fill="#0f0"/>
<rect x="2345.0" y="1828" width="81.0" height="1" fill="#e8e8e8"/>
<polygon points="2351.0,1832 2425.0,1832 2425.0,1834 2348.0,1834" fill="#0f0"/>
<rect x="2345.0" y="1831" width="81.0" height="1" fill="#e8e8e8"/>
<polygon points="2351.0,1835 2425.0,1835 2425.0,1837 2348.0,1837" fill="#0f0"/>
<rect x="2345.0" y="1834" width="81.0" height="1" fill="#e8e8e8"/>
<polygon points="2351.0,1838 2425.0,1838 2425.0,1840 2348.0,1840" fill="#0f0"/>
<rect x="2345.0" y="1837" width="81.0" height="1" fill="#e8e8e8"/>
<polygon points="2351.0,1841 2425.0,1841 2425.0,1843 2348.0,1843" fill="#0f0"/>
<rect x="2345.0" y="1840" width="81.0" height="1" fill="#e8e8e8"/>
<rect x="2345.0" y="1843" width="81.0" height="1" fill="#e8e8e8"/>
<rect x="2345.0" y="1846" width="81.0" height="1" fill="#e8e8e8"/>
<rect x="2345.0" y="1849" width="81.0" height="1" fill="#e8e8e8"/>
<rect x="11.2" y="1823" width="1.8" height="2" fill="#000"/>
<rect x="14.5" y="1823" width="1.6" height="2" fill="#000"/>
<rect x="13.4" y="1826" width="2.2" height="2" fill="#000"/>
<rect x="8.6" y="1826" width="2.5" height="2" fill="#000"/>
<rect x="8.4" y="1829" width="2.4" height="2" fill="#000"/>
<rect x="8.7" y="1829" width="1.7" height="2" fill="#000"/>
<rect x="36.9" y="1820" width="3.2" height="2" fill="#000"/>
<rect x="30.6" y="1820" width="1.9" height="2" fill="#000"/>
<rect x="41.2" y="1820" width="3.4" height="2" fill="#000"/>
<rect x="40.1" y="1820" width="2.3" height="2" fill="#000"/>
<rect x="48.5" y="1823" width="1.6" height="2" fill="#000"/>
<rect x="46.0" y="1823" width="2.1" height="2" fill="#000"/>
<rect x="31.0" y="1823" width="1.7" height="2" fill="#000"/>
<rect x="34.5" y="1823" width="3.1" height="2" fill="#000"/>
<rect x="31.8" y="1826" width="2.7" height="2" fill="#000"/>
<rect x="41.4" y="1826" width="2.2" height="2" fill="#000"/>
<rect x="39.5" y="1826" width="1.6" height="2" fill="#000"/>
<rect x="29.3" y="1826" width="1.9" height="2" fill="#000"/>
<rect x="42.3" y="1829" width="2.4" height="2" fill="#000"/>
<rect x="34.6" y="1829" width="2.7" height="2" fill="#000"/>
<rect x="37.5" y="1829" width="2.1" height="2" fill="#000"/>
<rect x="44.7" y="1829" width="2.9" height="2" fill="#000"/>
<rect x="33.1" y="1832" width="2.6" height="2" fill="#000"/>
<rect x="39.0" y="1832" width="3.3" height="2" fill="#000"/>
<rect x="43.3" y="1832" width="2.1" height="2" fill="#000"/>
<rect x="48.6" y="1832" width="1.7" height="2" fill="#000"/>
<rect x="36.8" y="1835" width="3.0" height="2" fill="#000"/>
<rect x="31.2" y="1835" width="2.5" height="2" fill="#000"/>
<rect x="28.8" y="1835" width="2.8" height="2" fill="#000"/>
<rect x="44.1" y="1835" width="2.6" height="2" fill="#000"/>
<rect x="46.4" y="1838" width="2.1" height="2" fill="#000"/>
<rect x="42.6" y="1838" width="2.7" height="2" fill="#000"/>
<rect x="40.2" y="1838" width="2.4" height="2" fill="#000"/>
<rect x="45.6" y="1838" width="3.4" height="2" fill="#000"/>
<rect x="38.0" y="1841" width="2.8" height="2" fill="#000"/>
<rect x="29.3" y="1841" width="2.9" height="2" fill="#000"/>
<rect x="41.6" y="1841" width="3.5" height="2" fill="#000"/>
<rect x="45.3" y="1841" width="2.1" height="2" fill="#000"/>
<rect x="41.6" y="1811" width="2.8" height="2" fill="#000"/>
<rect x="37.3" y="1811" width="2.4" height="2" fill="#000"/>
<rect x="39.0" y="1814" width="1.7" height="2" fill="#000"/>
<rect x="37.7" y="1814" width="3.0" height="2" fill="#000"/>
<rect x="38.6" y="1817" width="2.0" height="2" fill="#000"/>
<rect x="41.7" y="1817" width="3.2" height="2" fill="#000"/>
<rect x="61.1" y="1811" width="2.4" height="2" fill="#000"/>
<rect x="67.7" y="1811" width="3.3" height="2" fill="#000"/>
<rect x="71.5" y="1811" width="3.2" height="2" fill="#000"/>
<rect x="63.9" y="1814" width="2.3" height="2" fill="#000"/>
<rect x="65.0" y="1814" width="3.3" height="2" fill="#000"/>
<rect x="73.4" y="1814" width="1.8" height="2" fill="#000"/>
<rect x="62.5" y="1817" width="2.0" height="2" fill="#000"/>
<rect x="63.3" y="1817" width="2.5" height="2" fill="#000"/>
<rect x="68.2" y="1817" width="2.0" height="2" fill="#000"/>
<rect x="60.1" y="1820" width="2.3" height="2" fill="#000"/>
<rect x="65.2" y="1820" width="2.6" height="2" fill="#000"/>
<rect x="73.3" y="1820" width="2.9" height="2" fill="#000"/>
<rect x="67.2" y="1823" width="2.7" height="2" fill="#000"/>
<rect x="69.5" y="1823" width="1.6" height="2" fill="#000"/>
<rect x="72.6" y="1823" width="3.1" height="2" fill="#000"/>
<rect x="72.2" y="1826" width="3.1" height="2" fill="#000"/>
<rect x="65.5" y="1826" width="2.3" height="2" fill="#000"/>
<rect x="61.4" y="1826" width="2.8" height="2" fill="#000"/>
<rect x="60.9" y="1829" width="1.6" height="2" fill="#000"/>
<rect x="62.9" y="1829" width="1.8" height="2" fill="#000"/>
<rect x="64.8" y="1829" width="1.6" height="2" fill="#000"/>
<rect x="60.0" y="1832" width="1.8" height="2" fill="#000"/>
<rect x="61.4" y="1832" width="2.2" height="2" fill="#000"/>
<rect x="60.4" y="1832" width="3.2" height="2" fill="#000"/>
<rect x="68.6" y="1835" width="1.8" height="2" fill="#000"/>
<rect x="63.5" y="1835" width="2.2" height="2" fill="#000"/>
<rect x="65.1" y="1835" width="1.7" height="2" fill="#000"/>
<rect x="71.9" y="1838" width="3.5" height="2" fill="#000"/>
<rect x="66.5" y="1838" width="2.5" height="2" fill="#000"/>
<rect x="61.2" y="1838" width="1.7" height="2" fill="#000"/>
<rect x="64.8" y="1841" width="2.0" height="2" fill="#000"/>
<rect x="71.6" y="1841" width="1.8" height="2" fill="#000"/>
<rect x="60.3" y="1841" width="3.4" height="2" fill="#000"/>
<rect x="2376.0" y="1811" width="1.8" height="2" fill="#000"/>
<rect x="2376.6" y="1811" width="1.6" height="2" fill="#000"/>
<rect x="2376.0" y="1811" width="3.5" height="2" fill="#000"/>
<rect x="2388.1" y="1811" width="2.9" height="2" fill="#000"/>
<rect x="2366.4" y="1811" width="2.2" height="2" fill="#000"/>
<rect x="2363.0" y="1814" width="3.0" height="2" fill="#000"/>
<rect x="2376.2" y="1814" width="3.1" height="2" fill="#000"/>
<rect x="2368.9" y="1814" width="1.9" height="2" fill="#000"/>
<rect x="2386.2" y="1814" width="3.5" height="2" fill="#000"/>
<rect x="2387.7" y="1814" width="3.1" height="2" fill="#000"/>
<rect x="2386.5" y="1817" width="3.0" height="2" fill="#000"/>
<rect x="2365.2" y="1817" width="2.5" height="2" fill="#000"/>
<rect x="2369.8" y="1817" width="1.6" height="2" fill="#000"/>
<rect x="2358.0" y="1817" width="2.1" height="2" fill="#000"/>
<rect x="2366.3" y="1817" width="2.9" height="2" fill="#000"/>
<rect x="2391.4" y="1820" width="2.4" height="2" fill="#000"/>
<rect x="2390.7" y="1820" width="3.5" height="2" fill="#000"/>
<rect x="2391.4" y="1820" width="2.2" height="2" fill="#000"/>
<rect x="2364.9" y="1820" width="2.0" height="2" fill="#000"/>
<rect x="2364.1" y="1820" width="1.9" height="2" fill="#000"/>
<rect x="2379.5" y="1823" width="3.3" height="2" fill="#000"/>
<rect x="2387.3" y="1823" width="2.5" height="2" fill="#000"/>
<rect x="2380.5" y="1823" width="3.1" height="2" fill="#000"/>
<rect x="2360.1" y="1823" width="2.8" height="2" fill="#000"/>
<rect x="2389.8" y="1823" width="3.1" height="2" fill="#000"/>
<rect x="2384.0" y="1826" width="2.5" height="2" fill="#000"/>
<rect x="2363.4" y="1826" width="3.1" height="2" fill="#000"/>
<rect x="2369.0" y="1826" width="3.1" height="2" fill="#000"/>
<rect x="2392.0" y="1826" width="2.3" height="2" fill="#000"/>
<rect x="2371.4" y="1826" width="3.4" height="2" fill="#000"/>
<rect x="2383.1" y="1829" width="1.8" height="2" fill="#000"/>
<rect x="2361.6" y="1829" width="1.8" height="2" fill="#000"/>
<rect x="2389.6" y="1829" width="3.1" height="2" fill="#000"/>
<rect x="2362.3" y="1829" width="3.2" height="2" fill="#000"/>
<rect x="2392.3" y="1829" width="2.8" height="2" fill="#000"/>
<rect x="2369.6" y="1832" width="2.6" height="2" fill="#000"/>
<rect x="2361.7" y="1832" width="1.5" height="2" fill="#000"/>
<rect x="2392.0" y="1832" width="2.8" height="2" fill="#000"/>
<rect x="2376.0" y="1832" width="3.4" height="2" fill="#000"/>
<rect x="2372.6" y="1832" width="3.2" height="2" fill="#000"/>
<rect x="2386.7" y="1835" width="1.9" height="2" fill="#000"/>
<rect x="2366.1" y="1835" width="2.1" height="2" fill="#000"/>
<rect x="2365.7" y="1835" width="2.7" height="2" fill="#000"/>
<rect x="2366.3" y="1835" width="2.3" height="2" fill="#000"/>
<rect x="2361.7" y="1835" width="3.3" height="2" fill="#000"/>
<rect x="2369.7" y="1838" width="2.4" height="2" fill="#000"/>
<rect x="2378.0" y="1838" width="3.3" height="2" fill="#000"/>
<rect x="2372.1" y="1838" width="3.3" height="2" fill="#000"/>
<rect x="2375.1" y="1838" width="2.6" height="2" fill="#000"/>
<rect x="2375.8" y="1838" width="1.5" height="2" fill="#000"/>
<rect x="2372.8" y="1841" width="1.9" height="2" fill="#000"/>
<rect x="2357.1" y="1841" width="3.1" height="2" fill="#000"/>
<rect x="2363.2" y="1841" width="2.4" height="2" fill="#000"/>
<rect x="2383.1" y="1841" width="2.6" height="2" fill="#000"/>
<rect x="2368.7" y="1841" width="2.5" height="2" fill="#000"/>
<rect x="2409.4" y="1817" width="3.1" height="2" fill="#000"/>
<rect x="2401.8" y="1817" width="2.6" height="2" fill="#000"/>
<rect x="2404.2" y="1817" width="2.1" height="2" fill="#000"/>
<rect x="2413.1" y="1820" width="2.5" height="2" fill="#000"/>
<rect x="2409.5" y="1820" width="3.0" height="2" fill="#000"/>
<rect x="2415.5" y="1820" width="2.4" height="2" fill="#000"/>
<rect x="2410.4" y="1823" width="2.5" height="2" fill="#000"/>
<rect x="2408.7" y="1823" width="2.9" height="2" fill="#000"/>
<rect x="2407.7" y="1823" width="2.6" height="2" fill="#000"/>
<rect x="2408.1" y="1826" width="3.4" height="2" fill="#000"/>
<rect x="2411.9" y="1826" width="3.3" height="2" fill="#000"/>
<rect x="2416.0" y="1826" width="2.0" height="2" fill="#000"/>
<rect x="2392.7" y="1832" width="3.4" height="2" fill="#000"/>
<rect x="2403.1" y="1832" width="1.8" height="2" fill="#000"/>
<rect x="2376.5" y="1835" width="2.4" height="2" fill="#000"/>
<rect x="2374.7" y="1835" width="2.0" height="2" fill="#000"/>
<rect x="2374.7" y="1838" width="2.8" height="2" fill="#000"/>
<rect x="2401.0" y="1838" width="3.3" height="2" fill="#000"/>
<line x1="87.0" y1="1832.5" x2="2345.0" y2="1832.5" stroke="#ff0" stroke-width="1" shape-rendering="crispEdges"/>
<line x1="251.5" y1="1833.0" x2="251.5" y2="1838.0" stroke="#ff0" stroke-width="1" shape-rendering="crispEdges"/>
<text class="b" x="253.5" y="1851">Jun</text>
<line x1="419.5" y1="1833.0" x2="419.5" y2="1838.0" stroke="#ff0" stroke-width="1" shape-rendering="crispEdges"/>
<text class="b" x="421.5" y="1851">Jul</text>
<line x1="579.5" y1="1833.0" x2="579.5" y2="1838.0" stroke="#ff0" stroke-width="1" shape-rendering="crispEdges"/>
<text class="b" x="581.5" y="1851">Aug</text>
<line x1="763.5" y1="1833.0" x2="763.5" y2="1838.0" stroke="#ff0" stroke-width="1" shape-rendering="crispEdges"/>
<text class="b" x="765.5" y="1851">Sep</text>
<line x1="923.5" y1="1833.0" x2="923.5" y2="1838.0" stroke="#ff0" stroke-width="1" shape-rendering="crispEdges"/>
<text class="b" x="925.5" y="1851">Okt</text>
<line x1="1115.5" y1="1833.0" x2="1115.5" y2="1838.0" stroke="#ff0" stroke-width="1" shape-rendering="crispEdges"/>
<text class="b" x="1117.5" y="1851">Nov</text>
<line x1="1307.5" y1="1833.0" x2="1307.5" y2="1838.0" stroke="#ff0" stroke-width="1" shape-rendering="crispEdges"/>
<text class="b" x="1309.5" y="1851">Dez</text>
<line x1="1467.5" y1="1833.0" x2="1467.5" y2="1855.0" stroke="#ff0" stroke-width="1" shape-rendering="crispEdges"/>
<text class="b" x="1469.5" y="1851">2024</text>
<line x1="1635.5" y1="1833.0" x2="1635.5" y2="1838.0" stroke="#ff0" stroke-width="1" shape-rendering="crispEdges"/>
<text class="b" x="1637.5" y="1851">Feb</text>
<line x1="1795.5" y1="1833.0" x2="1795.5" y2="1838.0" stroke="#ff0" stroke-width="1" shape-rendering="crispEdges"/>
<text class="b" x="1797.5" y="1851">Mrz</text>
<line x1="2067.5" y1="1833.0" x2="2067.5" y2="1838.0" stroke="#ff0" stroke-width="1" shape-rendering="crispEdges"/>
<text class="b" x="2069.5" y="1851">Apr</text>
<line x1="2243.5" y1="1833.0" x2="2243.5" y2="1838.0" stroke="#ff0" stroke-width="1" shape-rendering="crispEdges"/>
<text class="b" x="2245.5" y="1851">Mai</text>
<text x="353.6" y="1796" style="font-size:51px;font-weight:bold;font-style:italic" fill="#ff0" stroke="#ff0" stroke-width="2.6" stroke-linejoin="round" textLength="287" lengthAdjust="spacingAndGlyphs">Psychator</text>
</svg></body></html>
